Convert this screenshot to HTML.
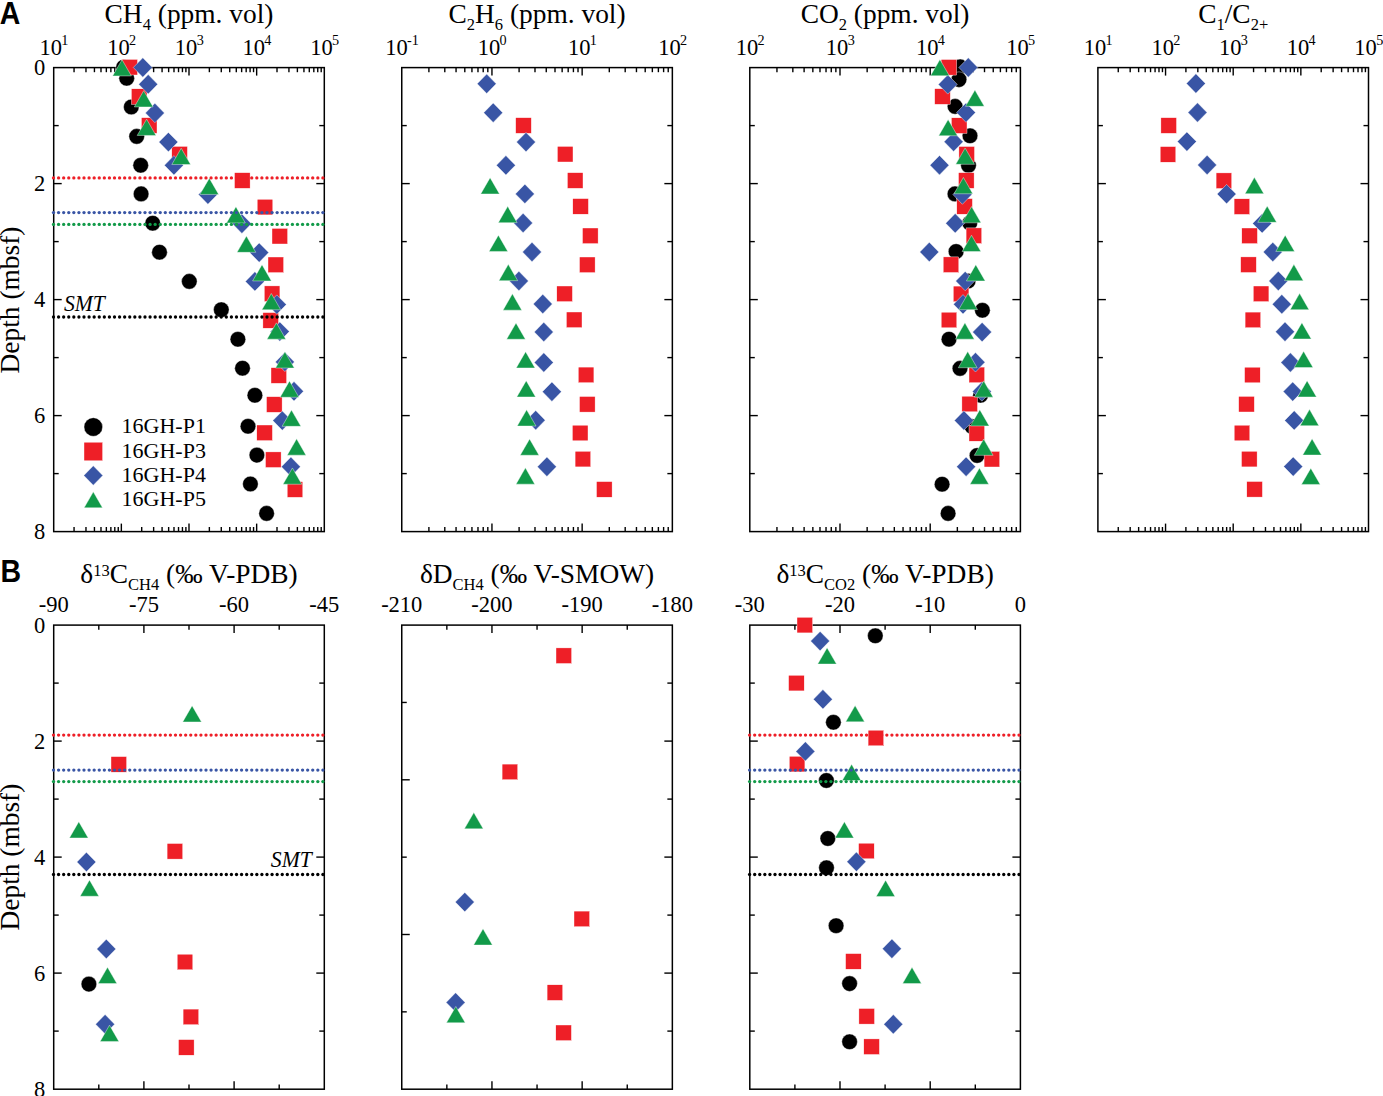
<!DOCTYPE html>
<html><head><meta charset="utf-8"><style>html,body{margin:0;padding:0;background:#fff;overflow:hidden}svg{display:block}</style></head>
<body><svg width="1383" height="1096" viewBox="0 0 1383 1096"><rect width="1383" height="1096" fill="#fff"/>
<text transform="translate(-0.3,24.0) scale(0.92,1)" font-family="&quot;Liberation Sans&quot;, sans-serif" font-weight="bold" font-size="31">A</text>
<text transform="translate(0.4,582.0) scale(0.92,1)" font-family="&quot;Liberation Sans&quot;, sans-serif" font-weight="bold" font-size="31">B</text>
<text x="189.00" y="23.40" font-family="'Liberation Serif', serif" font-size="27.4" text-anchor="middle"><tspan>CH</tspan><tspan font-size="16.5" dy="7.0">4</tspan><tspan dy="-7.0"> (ppm. vol)</tspan></text>
<text x="537.05" y="23.40" font-family="'Liberation Serif', serif" font-size="27.4" text-anchor="middle"><tspan>C</tspan><tspan font-size="16.5" dy="7.0">2</tspan><tspan dy="-7.0">H</tspan><tspan font-size="16.5" dy="7.0">6</tspan><tspan dy="-7.0"> (ppm. vol)</tspan></text>
<text x="885.10" y="23.40" font-family="'Liberation Serif', serif" font-size="27.4" text-anchor="middle"><tspan>CO</tspan><tspan font-size="16.5" dy="7.0">2</tspan><tspan dy="-7.0"> (ppm. vol)</tspan></text>
<text x="1233.20" y="23.40" font-family="'Liberation Serif', serif" font-size="27.4" text-anchor="middle"><tspan>C</tspan><tspan font-size="16.5" dy="7.0">1</tspan><tspan dy="-7.0">/C</tspan><tspan font-size="16.5" dy="7.0">2+</tspan></text>
<text x="189.00" y="583.30" font-family="'Liberation Serif', serif" font-size="27.4" text-anchor="middle"><tspan>δ</tspan><tspan font-size="16.5" dy="-7.8">13</tspan><tspan dy="7.8">C</tspan><tspan font-size="16.5" dy="7.0">CH4</tspan><tspan dy="-7.0"> (‰ V-PDB)</tspan></text>
<text x="537.05" y="583.30" font-family="'Liberation Serif', serif" font-size="27.4" text-anchor="middle"><tspan>δD</tspan><tspan font-size="16.5" dy="7.0">CH4</tspan><tspan dy="-7.0"> (‰ V-SMOW)</tspan></text>
<text x="885.10" y="583.30" font-family="'Liberation Serif', serif" font-size="27.4" text-anchor="middle"><tspan>δ</tspan><tspan font-size="16.5" dy="-7.8">13</tspan><tspan dy="7.8">C</tspan><tspan font-size="16.5" dy="7.0">CO2</tspan><tspan dy="-7.0"> (‰ V-PDB)</tspan></text>
<line x1="74.06" y1="67.60" x2="74.06" y2="72.20" stroke="#000" stroke-width="1.4"/>
<line x1="74.06" y1="531.60" x2="74.06" y2="527.00" stroke="#000" stroke-width="1.4"/>
<line x1="85.98" y1="67.60" x2="85.98" y2="72.20" stroke="#000" stroke-width="1.4"/>
<line x1="85.98" y1="531.60" x2="85.98" y2="527.00" stroke="#000" stroke-width="1.4"/>
<line x1="94.43" y1="67.60" x2="94.43" y2="72.20" stroke="#000" stroke-width="1.4"/>
<line x1="94.43" y1="531.60" x2="94.43" y2="527.00" stroke="#000" stroke-width="1.4"/>
<line x1="100.99" y1="67.60" x2="100.99" y2="72.20" stroke="#000" stroke-width="1.4"/>
<line x1="100.99" y1="531.60" x2="100.99" y2="527.00" stroke="#000" stroke-width="1.4"/>
<line x1="106.34" y1="67.60" x2="106.34" y2="72.20" stroke="#000" stroke-width="1.4"/>
<line x1="106.34" y1="531.60" x2="106.34" y2="527.00" stroke="#000" stroke-width="1.4"/>
<line x1="110.87" y1="67.60" x2="110.87" y2="72.20" stroke="#000" stroke-width="1.4"/>
<line x1="110.87" y1="531.60" x2="110.87" y2="527.00" stroke="#000" stroke-width="1.4"/>
<line x1="114.79" y1="67.60" x2="114.79" y2="72.20" stroke="#000" stroke-width="1.4"/>
<line x1="114.79" y1="531.60" x2="114.79" y2="527.00" stroke="#000" stroke-width="1.4"/>
<line x1="118.25" y1="67.60" x2="118.25" y2="72.20" stroke="#000" stroke-width="1.4"/>
<line x1="118.25" y1="531.60" x2="118.25" y2="527.00" stroke="#000" stroke-width="1.4"/>
<line x1="141.71" y1="67.60" x2="141.71" y2="72.20" stroke="#000" stroke-width="1.4"/>
<line x1="141.71" y1="531.60" x2="141.71" y2="527.00" stroke="#000" stroke-width="1.4"/>
<line x1="153.63" y1="67.60" x2="153.63" y2="72.20" stroke="#000" stroke-width="1.4"/>
<line x1="153.63" y1="531.60" x2="153.63" y2="527.00" stroke="#000" stroke-width="1.4"/>
<line x1="162.08" y1="67.60" x2="162.08" y2="72.20" stroke="#000" stroke-width="1.4"/>
<line x1="162.08" y1="531.60" x2="162.08" y2="527.00" stroke="#000" stroke-width="1.4"/>
<line x1="168.64" y1="67.60" x2="168.64" y2="72.20" stroke="#000" stroke-width="1.4"/>
<line x1="168.64" y1="531.60" x2="168.64" y2="527.00" stroke="#000" stroke-width="1.4"/>
<line x1="173.99" y1="67.60" x2="173.99" y2="72.20" stroke="#000" stroke-width="1.4"/>
<line x1="173.99" y1="531.60" x2="173.99" y2="527.00" stroke="#000" stroke-width="1.4"/>
<line x1="178.52" y1="67.60" x2="178.52" y2="72.20" stroke="#000" stroke-width="1.4"/>
<line x1="178.52" y1="531.60" x2="178.52" y2="527.00" stroke="#000" stroke-width="1.4"/>
<line x1="182.44" y1="67.60" x2="182.44" y2="72.20" stroke="#000" stroke-width="1.4"/>
<line x1="182.44" y1="531.60" x2="182.44" y2="527.00" stroke="#000" stroke-width="1.4"/>
<line x1="185.90" y1="67.60" x2="185.90" y2="72.20" stroke="#000" stroke-width="1.4"/>
<line x1="185.90" y1="531.60" x2="185.90" y2="527.00" stroke="#000" stroke-width="1.4"/>
<line x1="121.35" y1="67.60" x2="121.35" y2="75.60" stroke="#000" stroke-width="1.4"/>
<line x1="121.35" y1="531.60" x2="121.35" y2="523.60" stroke="#000" stroke-width="1.4"/>
<line x1="209.36" y1="67.60" x2="209.36" y2="72.20" stroke="#000" stroke-width="1.4"/>
<line x1="209.36" y1="531.60" x2="209.36" y2="527.00" stroke="#000" stroke-width="1.4"/>
<line x1="221.28" y1="67.60" x2="221.28" y2="72.20" stroke="#000" stroke-width="1.4"/>
<line x1="221.28" y1="531.60" x2="221.28" y2="527.00" stroke="#000" stroke-width="1.4"/>
<line x1="229.73" y1="67.60" x2="229.73" y2="72.20" stroke="#000" stroke-width="1.4"/>
<line x1="229.73" y1="531.60" x2="229.73" y2="527.00" stroke="#000" stroke-width="1.4"/>
<line x1="236.29" y1="67.60" x2="236.29" y2="72.20" stroke="#000" stroke-width="1.4"/>
<line x1="236.29" y1="531.60" x2="236.29" y2="527.00" stroke="#000" stroke-width="1.4"/>
<line x1="241.64" y1="67.60" x2="241.64" y2="72.20" stroke="#000" stroke-width="1.4"/>
<line x1="241.64" y1="531.60" x2="241.64" y2="527.00" stroke="#000" stroke-width="1.4"/>
<line x1="246.17" y1="67.60" x2="246.17" y2="72.20" stroke="#000" stroke-width="1.4"/>
<line x1="246.17" y1="531.60" x2="246.17" y2="527.00" stroke="#000" stroke-width="1.4"/>
<line x1="250.09" y1="67.60" x2="250.09" y2="72.20" stroke="#000" stroke-width="1.4"/>
<line x1="250.09" y1="531.60" x2="250.09" y2="527.00" stroke="#000" stroke-width="1.4"/>
<line x1="253.55" y1="67.60" x2="253.55" y2="72.20" stroke="#000" stroke-width="1.4"/>
<line x1="253.55" y1="531.60" x2="253.55" y2="527.00" stroke="#000" stroke-width="1.4"/>
<line x1="189.00" y1="67.60" x2="189.00" y2="75.60" stroke="#000" stroke-width="1.4"/>
<line x1="189.00" y1="531.60" x2="189.00" y2="523.60" stroke="#000" stroke-width="1.4"/>
<line x1="277.01" y1="67.60" x2="277.01" y2="72.20" stroke="#000" stroke-width="1.4"/>
<line x1="277.01" y1="531.60" x2="277.01" y2="527.00" stroke="#000" stroke-width="1.4"/>
<line x1="288.93" y1="67.60" x2="288.93" y2="72.20" stroke="#000" stroke-width="1.4"/>
<line x1="288.93" y1="531.60" x2="288.93" y2="527.00" stroke="#000" stroke-width="1.4"/>
<line x1="297.38" y1="67.60" x2="297.38" y2="72.20" stroke="#000" stroke-width="1.4"/>
<line x1="297.38" y1="531.60" x2="297.38" y2="527.00" stroke="#000" stroke-width="1.4"/>
<line x1="303.94" y1="67.60" x2="303.94" y2="72.20" stroke="#000" stroke-width="1.4"/>
<line x1="303.94" y1="531.60" x2="303.94" y2="527.00" stroke="#000" stroke-width="1.4"/>
<line x1="309.29" y1="67.60" x2="309.29" y2="72.20" stroke="#000" stroke-width="1.4"/>
<line x1="309.29" y1="531.60" x2="309.29" y2="527.00" stroke="#000" stroke-width="1.4"/>
<line x1="313.82" y1="67.60" x2="313.82" y2="72.20" stroke="#000" stroke-width="1.4"/>
<line x1="313.82" y1="531.60" x2="313.82" y2="527.00" stroke="#000" stroke-width="1.4"/>
<line x1="317.74" y1="67.60" x2="317.74" y2="72.20" stroke="#000" stroke-width="1.4"/>
<line x1="317.74" y1="531.60" x2="317.74" y2="527.00" stroke="#000" stroke-width="1.4"/>
<line x1="321.20" y1="67.60" x2="321.20" y2="72.20" stroke="#000" stroke-width="1.4"/>
<line x1="321.20" y1="531.60" x2="321.20" y2="527.00" stroke="#000" stroke-width="1.4"/>
<line x1="256.65" y1="67.60" x2="256.65" y2="75.60" stroke="#000" stroke-width="1.4"/>
<line x1="256.65" y1="531.60" x2="256.65" y2="523.60" stroke="#000" stroke-width="1.4"/>
<line x1="53.70" y1="125.60" x2="58.70" y2="125.60" stroke="#000" stroke-width="1.4"/>
<line x1="53.70" y1="183.60" x2="61.70" y2="183.60" stroke="#000" stroke-width="1.4"/>
<line x1="53.70" y1="241.60" x2="58.70" y2="241.60" stroke="#000" stroke-width="1.4"/>
<line x1="53.70" y1="299.60" x2="61.70" y2="299.60" stroke="#000" stroke-width="1.4"/>
<line x1="53.70" y1="357.60" x2="58.70" y2="357.60" stroke="#000" stroke-width="1.4"/>
<line x1="53.70" y1="415.60" x2="61.70" y2="415.60" stroke="#000" stroke-width="1.4"/>
<line x1="53.70" y1="473.60" x2="58.70" y2="473.60" stroke="#000" stroke-width="1.4"/>
<line x1="324.30" y1="125.60" x2="319.30" y2="125.60" stroke="#000" stroke-width="1.4"/>
<line x1="324.30" y1="183.60" x2="316.30" y2="183.60" stroke="#000" stroke-width="1.4"/>
<line x1="324.30" y1="241.60" x2="319.30" y2="241.60" stroke="#000" stroke-width="1.4"/>
<line x1="324.30" y1="299.60" x2="316.30" y2="299.60" stroke="#000" stroke-width="1.4"/>
<line x1="324.30" y1="357.60" x2="319.30" y2="357.60" stroke="#000" stroke-width="1.4"/>
<line x1="324.30" y1="415.60" x2="316.30" y2="415.60" stroke="#000" stroke-width="1.4"/>
<line x1="324.30" y1="473.60" x2="319.30" y2="473.60" stroke="#000" stroke-width="1.4"/>
<text x="54.00" y="54.90" font-family="'Liberation Serif', serif" font-size="22.5" text-anchor="middle">10<tspan font-size="14.2" dx="-0.7" dy="-10.2">1</tspan></text>
<text x="121.65" y="54.90" font-family="'Liberation Serif', serif" font-size="22.5" text-anchor="middle">10<tspan font-size="14.2" dx="-0.7" dy="-10.2">2</tspan></text>
<text x="189.30" y="54.90" font-family="'Liberation Serif', serif" font-size="22.5" text-anchor="middle">10<tspan font-size="14.2" dx="-0.7" dy="-10.2">3</tspan></text>
<text x="256.95" y="54.90" font-family="'Liberation Serif', serif" font-size="22.5" text-anchor="middle">10<tspan font-size="14.2" dx="-0.7" dy="-10.2">4</tspan></text>
<text x="324.60" y="54.90" font-family="'Liberation Serif', serif" font-size="22.5" text-anchor="middle">10<tspan font-size="14.2" dx="-0.7" dy="-10.2">5</tspan></text>
<line x1="428.90" y1="67.60" x2="428.90" y2="72.20" stroke="#000" stroke-width="1.4"/>
<line x1="428.90" y1="531.60" x2="428.90" y2="527.00" stroke="#000" stroke-width="1.4"/>
<line x1="444.79" y1="67.60" x2="444.79" y2="72.20" stroke="#000" stroke-width="1.4"/>
<line x1="444.79" y1="531.60" x2="444.79" y2="527.00" stroke="#000" stroke-width="1.4"/>
<line x1="456.06" y1="67.60" x2="456.06" y2="72.20" stroke="#000" stroke-width="1.4"/>
<line x1="456.06" y1="531.60" x2="456.06" y2="527.00" stroke="#000" stroke-width="1.4"/>
<line x1="464.80" y1="67.60" x2="464.80" y2="72.20" stroke="#000" stroke-width="1.4"/>
<line x1="464.80" y1="531.60" x2="464.80" y2="527.00" stroke="#000" stroke-width="1.4"/>
<line x1="471.94" y1="67.60" x2="471.94" y2="72.20" stroke="#000" stroke-width="1.4"/>
<line x1="471.94" y1="531.60" x2="471.94" y2="527.00" stroke="#000" stroke-width="1.4"/>
<line x1="477.98" y1="67.60" x2="477.98" y2="72.20" stroke="#000" stroke-width="1.4"/>
<line x1="477.98" y1="531.60" x2="477.98" y2="527.00" stroke="#000" stroke-width="1.4"/>
<line x1="483.21" y1="67.60" x2="483.21" y2="72.20" stroke="#000" stroke-width="1.4"/>
<line x1="483.21" y1="531.60" x2="483.21" y2="527.00" stroke="#000" stroke-width="1.4"/>
<line x1="487.82" y1="67.60" x2="487.82" y2="72.20" stroke="#000" stroke-width="1.4"/>
<line x1="487.82" y1="531.60" x2="487.82" y2="527.00" stroke="#000" stroke-width="1.4"/>
<line x1="519.10" y1="67.60" x2="519.10" y2="72.20" stroke="#000" stroke-width="1.4"/>
<line x1="519.10" y1="531.60" x2="519.10" y2="527.00" stroke="#000" stroke-width="1.4"/>
<line x1="534.99" y1="67.60" x2="534.99" y2="72.20" stroke="#000" stroke-width="1.4"/>
<line x1="534.99" y1="531.60" x2="534.99" y2="527.00" stroke="#000" stroke-width="1.4"/>
<line x1="546.26" y1="67.60" x2="546.26" y2="72.20" stroke="#000" stroke-width="1.4"/>
<line x1="546.26" y1="531.60" x2="546.26" y2="527.00" stroke="#000" stroke-width="1.4"/>
<line x1="555.00" y1="67.60" x2="555.00" y2="72.20" stroke="#000" stroke-width="1.4"/>
<line x1="555.00" y1="531.60" x2="555.00" y2="527.00" stroke="#000" stroke-width="1.4"/>
<line x1="562.14" y1="67.60" x2="562.14" y2="72.20" stroke="#000" stroke-width="1.4"/>
<line x1="562.14" y1="531.60" x2="562.14" y2="527.00" stroke="#000" stroke-width="1.4"/>
<line x1="568.18" y1="67.60" x2="568.18" y2="72.20" stroke="#000" stroke-width="1.4"/>
<line x1="568.18" y1="531.60" x2="568.18" y2="527.00" stroke="#000" stroke-width="1.4"/>
<line x1="573.41" y1="67.60" x2="573.41" y2="72.20" stroke="#000" stroke-width="1.4"/>
<line x1="573.41" y1="531.60" x2="573.41" y2="527.00" stroke="#000" stroke-width="1.4"/>
<line x1="578.02" y1="67.60" x2="578.02" y2="72.20" stroke="#000" stroke-width="1.4"/>
<line x1="578.02" y1="531.60" x2="578.02" y2="527.00" stroke="#000" stroke-width="1.4"/>
<line x1="491.95" y1="67.60" x2="491.95" y2="75.60" stroke="#000" stroke-width="1.4"/>
<line x1="491.95" y1="531.60" x2="491.95" y2="523.60" stroke="#000" stroke-width="1.4"/>
<line x1="609.30" y1="67.60" x2="609.30" y2="72.20" stroke="#000" stroke-width="1.4"/>
<line x1="609.30" y1="531.60" x2="609.30" y2="527.00" stroke="#000" stroke-width="1.4"/>
<line x1="625.19" y1="67.60" x2="625.19" y2="72.20" stroke="#000" stroke-width="1.4"/>
<line x1="625.19" y1="531.60" x2="625.19" y2="527.00" stroke="#000" stroke-width="1.4"/>
<line x1="636.46" y1="67.60" x2="636.46" y2="72.20" stroke="#000" stroke-width="1.4"/>
<line x1="636.46" y1="531.60" x2="636.46" y2="527.00" stroke="#000" stroke-width="1.4"/>
<line x1="645.20" y1="67.60" x2="645.20" y2="72.20" stroke="#000" stroke-width="1.4"/>
<line x1="645.20" y1="531.60" x2="645.20" y2="527.00" stroke="#000" stroke-width="1.4"/>
<line x1="652.34" y1="67.60" x2="652.34" y2="72.20" stroke="#000" stroke-width="1.4"/>
<line x1="652.34" y1="531.60" x2="652.34" y2="527.00" stroke="#000" stroke-width="1.4"/>
<line x1="658.38" y1="67.60" x2="658.38" y2="72.20" stroke="#000" stroke-width="1.4"/>
<line x1="658.38" y1="531.60" x2="658.38" y2="527.00" stroke="#000" stroke-width="1.4"/>
<line x1="663.61" y1="67.60" x2="663.61" y2="72.20" stroke="#000" stroke-width="1.4"/>
<line x1="663.61" y1="531.60" x2="663.61" y2="527.00" stroke="#000" stroke-width="1.4"/>
<line x1="668.22" y1="67.60" x2="668.22" y2="72.20" stroke="#000" stroke-width="1.4"/>
<line x1="668.22" y1="531.60" x2="668.22" y2="527.00" stroke="#000" stroke-width="1.4"/>
<line x1="582.15" y1="67.60" x2="582.15" y2="75.60" stroke="#000" stroke-width="1.4"/>
<line x1="582.15" y1="531.60" x2="582.15" y2="523.60" stroke="#000" stroke-width="1.4"/>
<line x1="401.75" y1="125.60" x2="406.75" y2="125.60" stroke="#000" stroke-width="1.4"/>
<line x1="401.75" y1="183.60" x2="409.75" y2="183.60" stroke="#000" stroke-width="1.4"/>
<line x1="401.75" y1="241.60" x2="406.75" y2="241.60" stroke="#000" stroke-width="1.4"/>
<line x1="401.75" y1="299.60" x2="409.75" y2="299.60" stroke="#000" stroke-width="1.4"/>
<line x1="401.75" y1="357.60" x2="406.75" y2="357.60" stroke="#000" stroke-width="1.4"/>
<line x1="401.75" y1="415.60" x2="409.75" y2="415.60" stroke="#000" stroke-width="1.4"/>
<line x1="401.75" y1="473.60" x2="406.75" y2="473.60" stroke="#000" stroke-width="1.4"/>
<line x1="672.35" y1="125.60" x2="667.35" y2="125.60" stroke="#000" stroke-width="1.4"/>
<line x1="672.35" y1="183.60" x2="664.35" y2="183.60" stroke="#000" stroke-width="1.4"/>
<line x1="672.35" y1="241.60" x2="667.35" y2="241.60" stroke="#000" stroke-width="1.4"/>
<line x1="672.35" y1="299.60" x2="664.35" y2="299.60" stroke="#000" stroke-width="1.4"/>
<line x1="672.35" y1="357.60" x2="667.35" y2="357.60" stroke="#000" stroke-width="1.4"/>
<line x1="672.35" y1="415.60" x2="664.35" y2="415.60" stroke="#000" stroke-width="1.4"/>
<line x1="672.35" y1="473.60" x2="667.35" y2="473.60" stroke="#000" stroke-width="1.4"/>
<text x="402.05" y="54.90" font-family="'Liberation Serif', serif" font-size="22.5" text-anchor="middle">10<tspan font-size="14.2" dx="-0.7" dy="-10.2">-1</tspan></text>
<text x="492.25" y="54.90" font-family="'Liberation Serif', serif" font-size="22.5" text-anchor="middle">10<tspan font-size="14.2" dx="-0.7" dy="-10.2">0</tspan></text>
<text x="582.45" y="54.90" font-family="'Liberation Serif', serif" font-size="22.5" text-anchor="middle">10<tspan font-size="14.2" dx="-0.7" dy="-10.2">1</tspan></text>
<text x="672.65" y="54.90" font-family="'Liberation Serif', serif" font-size="22.5" text-anchor="middle">10<tspan font-size="14.2" dx="-0.7" dy="-10.2">2</tspan></text>
<line x1="776.95" y1="67.60" x2="776.95" y2="72.20" stroke="#000" stroke-width="1.4"/>
<line x1="776.95" y1="531.60" x2="776.95" y2="527.00" stroke="#000" stroke-width="1.4"/>
<line x1="792.84" y1="67.60" x2="792.84" y2="72.20" stroke="#000" stroke-width="1.4"/>
<line x1="792.84" y1="531.60" x2="792.84" y2="527.00" stroke="#000" stroke-width="1.4"/>
<line x1="804.11" y1="67.60" x2="804.11" y2="72.20" stroke="#000" stroke-width="1.4"/>
<line x1="804.11" y1="531.60" x2="804.11" y2="527.00" stroke="#000" stroke-width="1.4"/>
<line x1="812.85" y1="67.60" x2="812.85" y2="72.20" stroke="#000" stroke-width="1.4"/>
<line x1="812.85" y1="531.60" x2="812.85" y2="527.00" stroke="#000" stroke-width="1.4"/>
<line x1="819.99" y1="67.60" x2="819.99" y2="72.20" stroke="#000" stroke-width="1.4"/>
<line x1="819.99" y1="531.60" x2="819.99" y2="527.00" stroke="#000" stroke-width="1.4"/>
<line x1="826.03" y1="67.60" x2="826.03" y2="72.20" stroke="#000" stroke-width="1.4"/>
<line x1="826.03" y1="531.60" x2="826.03" y2="527.00" stroke="#000" stroke-width="1.4"/>
<line x1="831.26" y1="67.60" x2="831.26" y2="72.20" stroke="#000" stroke-width="1.4"/>
<line x1="831.26" y1="531.60" x2="831.26" y2="527.00" stroke="#000" stroke-width="1.4"/>
<line x1="835.87" y1="67.60" x2="835.87" y2="72.20" stroke="#000" stroke-width="1.4"/>
<line x1="835.87" y1="531.60" x2="835.87" y2="527.00" stroke="#000" stroke-width="1.4"/>
<line x1="867.15" y1="67.60" x2="867.15" y2="72.20" stroke="#000" stroke-width="1.4"/>
<line x1="867.15" y1="531.60" x2="867.15" y2="527.00" stroke="#000" stroke-width="1.4"/>
<line x1="883.04" y1="67.60" x2="883.04" y2="72.20" stroke="#000" stroke-width="1.4"/>
<line x1="883.04" y1="531.60" x2="883.04" y2="527.00" stroke="#000" stroke-width="1.4"/>
<line x1="894.31" y1="67.60" x2="894.31" y2="72.20" stroke="#000" stroke-width="1.4"/>
<line x1="894.31" y1="531.60" x2="894.31" y2="527.00" stroke="#000" stroke-width="1.4"/>
<line x1="903.05" y1="67.60" x2="903.05" y2="72.20" stroke="#000" stroke-width="1.4"/>
<line x1="903.05" y1="531.60" x2="903.05" y2="527.00" stroke="#000" stroke-width="1.4"/>
<line x1="910.19" y1="67.60" x2="910.19" y2="72.20" stroke="#000" stroke-width="1.4"/>
<line x1="910.19" y1="531.60" x2="910.19" y2="527.00" stroke="#000" stroke-width="1.4"/>
<line x1="916.23" y1="67.60" x2="916.23" y2="72.20" stroke="#000" stroke-width="1.4"/>
<line x1="916.23" y1="531.60" x2="916.23" y2="527.00" stroke="#000" stroke-width="1.4"/>
<line x1="921.46" y1="67.60" x2="921.46" y2="72.20" stroke="#000" stroke-width="1.4"/>
<line x1="921.46" y1="531.60" x2="921.46" y2="527.00" stroke="#000" stroke-width="1.4"/>
<line x1="926.07" y1="67.60" x2="926.07" y2="72.20" stroke="#000" stroke-width="1.4"/>
<line x1="926.07" y1="531.60" x2="926.07" y2="527.00" stroke="#000" stroke-width="1.4"/>
<line x1="840.00" y1="67.60" x2="840.00" y2="75.60" stroke="#000" stroke-width="1.4"/>
<line x1="840.00" y1="531.60" x2="840.00" y2="523.60" stroke="#000" stroke-width="1.4"/>
<line x1="957.35" y1="67.60" x2="957.35" y2="72.20" stroke="#000" stroke-width="1.4"/>
<line x1="957.35" y1="531.60" x2="957.35" y2="527.00" stroke="#000" stroke-width="1.4"/>
<line x1="973.24" y1="67.60" x2="973.24" y2="72.20" stroke="#000" stroke-width="1.4"/>
<line x1="973.24" y1="531.60" x2="973.24" y2="527.00" stroke="#000" stroke-width="1.4"/>
<line x1="984.51" y1="67.60" x2="984.51" y2="72.20" stroke="#000" stroke-width="1.4"/>
<line x1="984.51" y1="531.60" x2="984.51" y2="527.00" stroke="#000" stroke-width="1.4"/>
<line x1="993.25" y1="67.60" x2="993.25" y2="72.20" stroke="#000" stroke-width="1.4"/>
<line x1="993.25" y1="531.60" x2="993.25" y2="527.00" stroke="#000" stroke-width="1.4"/>
<line x1="1000.39" y1="67.60" x2="1000.39" y2="72.20" stroke="#000" stroke-width="1.4"/>
<line x1="1000.39" y1="531.60" x2="1000.39" y2="527.00" stroke="#000" stroke-width="1.4"/>
<line x1="1006.43" y1="67.60" x2="1006.43" y2="72.20" stroke="#000" stroke-width="1.4"/>
<line x1="1006.43" y1="531.60" x2="1006.43" y2="527.00" stroke="#000" stroke-width="1.4"/>
<line x1="1011.66" y1="67.60" x2="1011.66" y2="72.20" stroke="#000" stroke-width="1.4"/>
<line x1="1011.66" y1="531.60" x2="1011.66" y2="527.00" stroke="#000" stroke-width="1.4"/>
<line x1="1016.27" y1="67.60" x2="1016.27" y2="72.20" stroke="#000" stroke-width="1.4"/>
<line x1="1016.27" y1="531.60" x2="1016.27" y2="527.00" stroke="#000" stroke-width="1.4"/>
<line x1="930.20" y1="67.60" x2="930.20" y2="75.60" stroke="#000" stroke-width="1.4"/>
<line x1="930.20" y1="531.60" x2="930.20" y2="523.60" stroke="#000" stroke-width="1.4"/>
<line x1="749.80" y1="125.60" x2="754.80" y2="125.60" stroke="#000" stroke-width="1.4"/>
<line x1="749.80" y1="183.60" x2="757.80" y2="183.60" stroke="#000" stroke-width="1.4"/>
<line x1="749.80" y1="241.60" x2="754.80" y2="241.60" stroke="#000" stroke-width="1.4"/>
<line x1="749.80" y1="299.60" x2="757.80" y2="299.60" stroke="#000" stroke-width="1.4"/>
<line x1="749.80" y1="357.60" x2="754.80" y2="357.60" stroke="#000" stroke-width="1.4"/>
<line x1="749.80" y1="415.60" x2="757.80" y2="415.60" stroke="#000" stroke-width="1.4"/>
<line x1="749.80" y1="473.60" x2="754.80" y2="473.60" stroke="#000" stroke-width="1.4"/>
<line x1="1020.40" y1="125.60" x2="1015.40" y2="125.60" stroke="#000" stroke-width="1.4"/>
<line x1="1020.40" y1="183.60" x2="1012.40" y2="183.60" stroke="#000" stroke-width="1.4"/>
<line x1="1020.40" y1="241.60" x2="1015.40" y2="241.60" stroke="#000" stroke-width="1.4"/>
<line x1="1020.40" y1="299.60" x2="1012.40" y2="299.60" stroke="#000" stroke-width="1.4"/>
<line x1="1020.40" y1="357.60" x2="1015.40" y2="357.60" stroke="#000" stroke-width="1.4"/>
<line x1="1020.40" y1="415.60" x2="1012.40" y2="415.60" stroke="#000" stroke-width="1.4"/>
<line x1="1020.40" y1="473.60" x2="1015.40" y2="473.60" stroke="#000" stroke-width="1.4"/>
<text x="750.10" y="54.90" font-family="'Liberation Serif', serif" font-size="22.5" text-anchor="middle">10<tspan font-size="14.2" dx="-0.7" dy="-10.2">2</tspan></text>
<text x="840.30" y="54.90" font-family="'Liberation Serif', serif" font-size="22.5" text-anchor="middle">10<tspan font-size="14.2" dx="-0.7" dy="-10.2">3</tspan></text>
<text x="930.50" y="54.90" font-family="'Liberation Serif', serif" font-size="22.5" text-anchor="middle">10<tspan font-size="14.2" dx="-0.7" dy="-10.2">4</tspan></text>
<text x="1020.70" y="54.90" font-family="'Liberation Serif', serif" font-size="22.5" text-anchor="middle">10<tspan font-size="14.2" dx="-0.7" dy="-10.2">5</tspan></text>
<line x1="1118.26" y1="67.60" x2="1118.26" y2="72.20" stroke="#000" stroke-width="1.4"/>
<line x1="1118.26" y1="531.60" x2="1118.26" y2="527.00" stroke="#000" stroke-width="1.4"/>
<line x1="1130.18" y1="67.60" x2="1130.18" y2="72.20" stroke="#000" stroke-width="1.4"/>
<line x1="1130.18" y1="531.60" x2="1130.18" y2="527.00" stroke="#000" stroke-width="1.4"/>
<line x1="1138.63" y1="67.60" x2="1138.63" y2="72.20" stroke="#000" stroke-width="1.4"/>
<line x1="1138.63" y1="531.60" x2="1138.63" y2="527.00" stroke="#000" stroke-width="1.4"/>
<line x1="1145.19" y1="67.60" x2="1145.19" y2="72.20" stroke="#000" stroke-width="1.4"/>
<line x1="1145.19" y1="531.60" x2="1145.19" y2="527.00" stroke="#000" stroke-width="1.4"/>
<line x1="1150.54" y1="67.60" x2="1150.54" y2="72.20" stroke="#000" stroke-width="1.4"/>
<line x1="1150.54" y1="531.60" x2="1150.54" y2="527.00" stroke="#000" stroke-width="1.4"/>
<line x1="1155.07" y1="67.60" x2="1155.07" y2="72.20" stroke="#000" stroke-width="1.4"/>
<line x1="1155.07" y1="531.60" x2="1155.07" y2="527.00" stroke="#000" stroke-width="1.4"/>
<line x1="1158.99" y1="67.60" x2="1158.99" y2="72.20" stroke="#000" stroke-width="1.4"/>
<line x1="1158.99" y1="531.60" x2="1158.99" y2="527.00" stroke="#000" stroke-width="1.4"/>
<line x1="1162.45" y1="67.60" x2="1162.45" y2="72.20" stroke="#000" stroke-width="1.4"/>
<line x1="1162.45" y1="531.60" x2="1162.45" y2="527.00" stroke="#000" stroke-width="1.4"/>
<line x1="1185.91" y1="67.60" x2="1185.91" y2="72.20" stroke="#000" stroke-width="1.4"/>
<line x1="1185.91" y1="531.60" x2="1185.91" y2="527.00" stroke="#000" stroke-width="1.4"/>
<line x1="1197.83" y1="67.60" x2="1197.83" y2="72.20" stroke="#000" stroke-width="1.4"/>
<line x1="1197.83" y1="531.60" x2="1197.83" y2="527.00" stroke="#000" stroke-width="1.4"/>
<line x1="1206.28" y1="67.60" x2="1206.28" y2="72.20" stroke="#000" stroke-width="1.4"/>
<line x1="1206.28" y1="531.60" x2="1206.28" y2="527.00" stroke="#000" stroke-width="1.4"/>
<line x1="1212.84" y1="67.60" x2="1212.84" y2="72.20" stroke="#000" stroke-width="1.4"/>
<line x1="1212.84" y1="531.60" x2="1212.84" y2="527.00" stroke="#000" stroke-width="1.4"/>
<line x1="1218.19" y1="67.60" x2="1218.19" y2="72.20" stroke="#000" stroke-width="1.4"/>
<line x1="1218.19" y1="531.60" x2="1218.19" y2="527.00" stroke="#000" stroke-width="1.4"/>
<line x1="1222.72" y1="67.60" x2="1222.72" y2="72.20" stroke="#000" stroke-width="1.4"/>
<line x1="1222.72" y1="531.60" x2="1222.72" y2="527.00" stroke="#000" stroke-width="1.4"/>
<line x1="1226.64" y1="67.60" x2="1226.64" y2="72.20" stroke="#000" stroke-width="1.4"/>
<line x1="1226.64" y1="531.60" x2="1226.64" y2="527.00" stroke="#000" stroke-width="1.4"/>
<line x1="1230.10" y1="67.60" x2="1230.10" y2="72.20" stroke="#000" stroke-width="1.4"/>
<line x1="1230.10" y1="531.60" x2="1230.10" y2="527.00" stroke="#000" stroke-width="1.4"/>
<line x1="1165.55" y1="67.60" x2="1165.55" y2="75.60" stroke="#000" stroke-width="1.4"/>
<line x1="1165.55" y1="531.60" x2="1165.55" y2="523.60" stroke="#000" stroke-width="1.4"/>
<line x1="1253.56" y1="67.60" x2="1253.56" y2="72.20" stroke="#000" stroke-width="1.4"/>
<line x1="1253.56" y1="531.60" x2="1253.56" y2="527.00" stroke="#000" stroke-width="1.4"/>
<line x1="1265.48" y1="67.60" x2="1265.48" y2="72.20" stroke="#000" stroke-width="1.4"/>
<line x1="1265.48" y1="531.60" x2="1265.48" y2="527.00" stroke="#000" stroke-width="1.4"/>
<line x1="1273.93" y1="67.60" x2="1273.93" y2="72.20" stroke="#000" stroke-width="1.4"/>
<line x1="1273.93" y1="531.60" x2="1273.93" y2="527.00" stroke="#000" stroke-width="1.4"/>
<line x1="1280.49" y1="67.60" x2="1280.49" y2="72.20" stroke="#000" stroke-width="1.4"/>
<line x1="1280.49" y1="531.60" x2="1280.49" y2="527.00" stroke="#000" stroke-width="1.4"/>
<line x1="1285.84" y1="67.60" x2="1285.84" y2="72.20" stroke="#000" stroke-width="1.4"/>
<line x1="1285.84" y1="531.60" x2="1285.84" y2="527.00" stroke="#000" stroke-width="1.4"/>
<line x1="1290.37" y1="67.60" x2="1290.37" y2="72.20" stroke="#000" stroke-width="1.4"/>
<line x1="1290.37" y1="531.60" x2="1290.37" y2="527.00" stroke="#000" stroke-width="1.4"/>
<line x1="1294.29" y1="67.60" x2="1294.29" y2="72.20" stroke="#000" stroke-width="1.4"/>
<line x1="1294.29" y1="531.60" x2="1294.29" y2="527.00" stroke="#000" stroke-width="1.4"/>
<line x1="1297.75" y1="67.60" x2="1297.75" y2="72.20" stroke="#000" stroke-width="1.4"/>
<line x1="1297.75" y1="531.60" x2="1297.75" y2="527.00" stroke="#000" stroke-width="1.4"/>
<line x1="1233.20" y1="67.60" x2="1233.20" y2="75.60" stroke="#000" stroke-width="1.4"/>
<line x1="1233.20" y1="531.60" x2="1233.20" y2="523.60" stroke="#000" stroke-width="1.4"/>
<line x1="1321.21" y1="67.60" x2="1321.21" y2="72.20" stroke="#000" stroke-width="1.4"/>
<line x1="1321.21" y1="531.60" x2="1321.21" y2="527.00" stroke="#000" stroke-width="1.4"/>
<line x1="1333.13" y1="67.60" x2="1333.13" y2="72.20" stroke="#000" stroke-width="1.4"/>
<line x1="1333.13" y1="531.60" x2="1333.13" y2="527.00" stroke="#000" stroke-width="1.4"/>
<line x1="1341.58" y1="67.60" x2="1341.58" y2="72.20" stroke="#000" stroke-width="1.4"/>
<line x1="1341.58" y1="531.60" x2="1341.58" y2="527.00" stroke="#000" stroke-width="1.4"/>
<line x1="1348.14" y1="67.60" x2="1348.14" y2="72.20" stroke="#000" stroke-width="1.4"/>
<line x1="1348.14" y1="531.60" x2="1348.14" y2="527.00" stroke="#000" stroke-width="1.4"/>
<line x1="1353.49" y1="67.60" x2="1353.49" y2="72.20" stroke="#000" stroke-width="1.4"/>
<line x1="1353.49" y1="531.60" x2="1353.49" y2="527.00" stroke="#000" stroke-width="1.4"/>
<line x1="1358.02" y1="67.60" x2="1358.02" y2="72.20" stroke="#000" stroke-width="1.4"/>
<line x1="1358.02" y1="531.60" x2="1358.02" y2="527.00" stroke="#000" stroke-width="1.4"/>
<line x1="1361.94" y1="67.60" x2="1361.94" y2="72.20" stroke="#000" stroke-width="1.4"/>
<line x1="1361.94" y1="531.60" x2="1361.94" y2="527.00" stroke="#000" stroke-width="1.4"/>
<line x1="1365.40" y1="67.60" x2="1365.40" y2="72.20" stroke="#000" stroke-width="1.4"/>
<line x1="1365.40" y1="531.60" x2="1365.40" y2="527.00" stroke="#000" stroke-width="1.4"/>
<line x1="1300.85" y1="67.60" x2="1300.85" y2="75.60" stroke="#000" stroke-width="1.4"/>
<line x1="1300.85" y1="531.60" x2="1300.85" y2="523.60" stroke="#000" stroke-width="1.4"/>
<line x1="1097.90" y1="125.60" x2="1102.90" y2="125.60" stroke="#000" stroke-width="1.4"/>
<line x1="1097.90" y1="183.60" x2="1105.90" y2="183.60" stroke="#000" stroke-width="1.4"/>
<line x1="1097.90" y1="241.60" x2="1102.90" y2="241.60" stroke="#000" stroke-width="1.4"/>
<line x1="1097.90" y1="299.60" x2="1105.90" y2="299.60" stroke="#000" stroke-width="1.4"/>
<line x1="1097.90" y1="357.60" x2="1102.90" y2="357.60" stroke="#000" stroke-width="1.4"/>
<line x1="1097.90" y1="415.60" x2="1105.90" y2="415.60" stroke="#000" stroke-width="1.4"/>
<line x1="1097.90" y1="473.60" x2="1102.90" y2="473.60" stroke="#000" stroke-width="1.4"/>
<line x1="1368.50" y1="125.60" x2="1363.50" y2="125.60" stroke="#000" stroke-width="1.4"/>
<line x1="1368.50" y1="183.60" x2="1360.50" y2="183.60" stroke="#000" stroke-width="1.4"/>
<line x1="1368.50" y1="241.60" x2="1363.50" y2="241.60" stroke="#000" stroke-width="1.4"/>
<line x1="1368.50" y1="299.60" x2="1360.50" y2="299.60" stroke="#000" stroke-width="1.4"/>
<line x1="1368.50" y1="357.60" x2="1363.50" y2="357.60" stroke="#000" stroke-width="1.4"/>
<line x1="1368.50" y1="415.60" x2="1360.50" y2="415.60" stroke="#000" stroke-width="1.4"/>
<line x1="1368.50" y1="473.60" x2="1363.50" y2="473.60" stroke="#000" stroke-width="1.4"/>
<text x="1098.20" y="54.90" font-family="'Liberation Serif', serif" font-size="22.5" text-anchor="middle">10<tspan font-size="14.2" dx="-0.7" dy="-10.2">1</tspan></text>
<text x="1165.85" y="54.90" font-family="'Liberation Serif', serif" font-size="22.5" text-anchor="middle">10<tspan font-size="14.2" dx="-0.7" dy="-10.2">2</tspan></text>
<text x="1233.50" y="54.90" font-family="'Liberation Serif', serif" font-size="22.5" text-anchor="middle">10<tspan font-size="14.2" dx="-0.7" dy="-10.2">3</tspan></text>
<text x="1301.15" y="54.90" font-family="'Liberation Serif', serif" font-size="22.5" text-anchor="middle">10<tspan font-size="14.2" dx="-0.7" dy="-10.2">4</tspan></text>
<text x="1368.80" y="54.90" font-family="'Liberation Serif', serif" font-size="22.5" text-anchor="middle">10<tspan font-size="14.2" dx="-0.7" dy="-10.2">5</tspan></text>
<line x1="98.80" y1="625.10" x2="98.80" y2="629.70" stroke="#000" stroke-width="1.4"/>
<line x1="98.80" y1="1089.20" x2="98.80" y2="1084.60" stroke="#000" stroke-width="1.4"/>
<line x1="143.90" y1="625.10" x2="143.90" y2="633.10" stroke="#000" stroke-width="1.4"/>
<line x1="143.90" y1="1089.20" x2="143.90" y2="1081.20" stroke="#000" stroke-width="1.4"/>
<line x1="189.00" y1="625.10" x2="189.00" y2="629.70" stroke="#000" stroke-width="1.4"/>
<line x1="189.00" y1="1089.20" x2="189.00" y2="1084.60" stroke="#000" stroke-width="1.4"/>
<line x1="234.10" y1="625.10" x2="234.10" y2="633.10" stroke="#000" stroke-width="1.4"/>
<line x1="234.10" y1="1089.20" x2="234.10" y2="1081.20" stroke="#000" stroke-width="1.4"/>
<line x1="279.20" y1="625.10" x2="279.20" y2="629.70" stroke="#000" stroke-width="1.4"/>
<line x1="279.20" y1="1089.20" x2="279.20" y2="1084.60" stroke="#000" stroke-width="1.4"/>
<line x1="53.70" y1="683.10" x2="58.70" y2="683.10" stroke="#000" stroke-width="1.4"/>
<line x1="53.70" y1="741.10" x2="61.70" y2="741.10" stroke="#000" stroke-width="1.4"/>
<line x1="53.70" y1="799.10" x2="58.70" y2="799.10" stroke="#000" stroke-width="1.4"/>
<line x1="53.70" y1="857.10" x2="61.70" y2="857.10" stroke="#000" stroke-width="1.4"/>
<line x1="53.70" y1="915.10" x2="58.70" y2="915.10" stroke="#000" stroke-width="1.4"/>
<line x1="53.70" y1="973.10" x2="61.70" y2="973.10" stroke="#000" stroke-width="1.4"/>
<line x1="53.70" y1="1031.10" x2="58.70" y2="1031.10" stroke="#000" stroke-width="1.4"/>
<line x1="324.30" y1="683.10" x2="319.30" y2="683.10" stroke="#000" stroke-width="1.4"/>
<line x1="324.30" y1="741.10" x2="316.30" y2="741.10" stroke="#000" stroke-width="1.4"/>
<line x1="324.30" y1="799.10" x2="319.30" y2="799.10" stroke="#000" stroke-width="1.4"/>
<line x1="324.30" y1="857.10" x2="316.30" y2="857.10" stroke="#000" stroke-width="1.4"/>
<line x1="324.30" y1="915.10" x2="319.30" y2="915.10" stroke="#000" stroke-width="1.4"/>
<line x1="324.30" y1="973.10" x2="316.30" y2="973.10" stroke="#000" stroke-width="1.4"/>
<line x1="324.30" y1="1031.10" x2="319.30" y2="1031.10" stroke="#000" stroke-width="1.4"/>
<text x="53.70" y="612.00" font-family="'Liberation Serif', serif" font-size="22.5" text-anchor="middle" >-90</text>
<text x="143.90" y="612.00" font-family="'Liberation Serif', serif" font-size="22.5" text-anchor="middle" >-75</text>
<text x="234.10" y="612.00" font-family="'Liberation Serif', serif" font-size="22.5" text-anchor="middle" >-60</text>
<text x="324.30" y="612.00" font-family="'Liberation Serif', serif" font-size="22.5" text-anchor="middle" >-45</text>
<line x1="446.85" y1="625.10" x2="446.85" y2="629.70" stroke="#000" stroke-width="1.4"/>
<line x1="446.85" y1="1089.20" x2="446.85" y2="1084.60" stroke="#000" stroke-width="1.4"/>
<line x1="491.95" y1="625.10" x2="491.95" y2="633.10" stroke="#000" stroke-width="1.4"/>
<line x1="491.95" y1="1089.20" x2="491.95" y2="1081.20" stroke="#000" stroke-width="1.4"/>
<line x1="537.05" y1="625.10" x2="537.05" y2="629.70" stroke="#000" stroke-width="1.4"/>
<line x1="537.05" y1="1089.20" x2="537.05" y2="1084.60" stroke="#000" stroke-width="1.4"/>
<line x1="582.15" y1="625.10" x2="582.15" y2="633.10" stroke="#000" stroke-width="1.4"/>
<line x1="582.15" y1="1089.20" x2="582.15" y2="1081.20" stroke="#000" stroke-width="1.4"/>
<line x1="627.25" y1="625.10" x2="627.25" y2="629.70" stroke="#000" stroke-width="1.4"/>
<line x1="627.25" y1="1089.20" x2="627.25" y2="1084.60" stroke="#000" stroke-width="1.4"/>
<line x1="401.75" y1="702.45" x2="406.75" y2="702.45" stroke="#000" stroke-width="1.4"/>
<line x1="401.75" y1="779.80" x2="409.75" y2="779.80" stroke="#000" stroke-width="1.4"/>
<line x1="401.75" y1="857.15" x2="406.75" y2="857.15" stroke="#000" stroke-width="1.4"/>
<line x1="401.75" y1="934.50" x2="409.75" y2="934.50" stroke="#000" stroke-width="1.4"/>
<line x1="401.75" y1="1011.85" x2="406.75" y2="1011.85" stroke="#000" stroke-width="1.4"/>
<line x1="672.35" y1="683.10" x2="667.35" y2="683.10" stroke="#000" stroke-width="1.4"/>
<line x1="672.35" y1="741.10" x2="664.35" y2="741.10" stroke="#000" stroke-width="1.4"/>
<line x1="672.35" y1="799.10" x2="667.35" y2="799.10" stroke="#000" stroke-width="1.4"/>
<line x1="672.35" y1="857.10" x2="664.35" y2="857.10" stroke="#000" stroke-width="1.4"/>
<line x1="672.35" y1="915.10" x2="667.35" y2="915.10" stroke="#000" stroke-width="1.4"/>
<line x1="672.35" y1="973.10" x2="664.35" y2="973.10" stroke="#000" stroke-width="1.4"/>
<line x1="672.35" y1="1031.10" x2="667.35" y2="1031.10" stroke="#000" stroke-width="1.4"/>
<text x="401.75" y="612.00" font-family="'Liberation Serif', serif" font-size="22.5" text-anchor="middle" >-210</text>
<text x="491.95" y="612.00" font-family="'Liberation Serif', serif" font-size="22.5" text-anchor="middle" >-200</text>
<text x="582.15" y="612.00" font-family="'Liberation Serif', serif" font-size="22.5" text-anchor="middle" >-190</text>
<text x="672.35" y="612.00" font-family="'Liberation Serif', serif" font-size="22.5" text-anchor="middle" >-180</text>
<line x1="794.90" y1="625.10" x2="794.90" y2="629.70" stroke="#000" stroke-width="1.4"/>
<line x1="794.90" y1="1089.20" x2="794.90" y2="1084.60" stroke="#000" stroke-width="1.4"/>
<line x1="840.00" y1="625.10" x2="840.00" y2="633.10" stroke="#000" stroke-width="1.4"/>
<line x1="840.00" y1="1089.20" x2="840.00" y2="1081.20" stroke="#000" stroke-width="1.4"/>
<line x1="885.10" y1="625.10" x2="885.10" y2="629.70" stroke="#000" stroke-width="1.4"/>
<line x1="885.10" y1="1089.20" x2="885.10" y2="1084.60" stroke="#000" stroke-width="1.4"/>
<line x1="930.20" y1="625.10" x2="930.20" y2="633.10" stroke="#000" stroke-width="1.4"/>
<line x1="930.20" y1="1089.20" x2="930.20" y2="1081.20" stroke="#000" stroke-width="1.4"/>
<line x1="975.30" y1="625.10" x2="975.30" y2="629.70" stroke="#000" stroke-width="1.4"/>
<line x1="975.30" y1="1089.20" x2="975.30" y2="1084.60" stroke="#000" stroke-width="1.4"/>
<line x1="749.80" y1="683.10" x2="754.80" y2="683.10" stroke="#000" stroke-width="1.4"/>
<line x1="749.80" y1="741.10" x2="757.80" y2="741.10" stroke="#000" stroke-width="1.4"/>
<line x1="749.80" y1="799.10" x2="754.80" y2="799.10" stroke="#000" stroke-width="1.4"/>
<line x1="749.80" y1="857.10" x2="757.80" y2="857.10" stroke="#000" stroke-width="1.4"/>
<line x1="749.80" y1="915.10" x2="754.80" y2="915.10" stroke="#000" stroke-width="1.4"/>
<line x1="749.80" y1="973.10" x2="757.80" y2="973.10" stroke="#000" stroke-width="1.4"/>
<line x1="749.80" y1="1031.10" x2="754.80" y2="1031.10" stroke="#000" stroke-width="1.4"/>
<line x1="1020.40" y1="683.10" x2="1015.40" y2="683.10" stroke="#000" stroke-width="1.4"/>
<line x1="1020.40" y1="741.10" x2="1012.40" y2="741.10" stroke="#000" stroke-width="1.4"/>
<line x1="1020.40" y1="799.10" x2="1015.40" y2="799.10" stroke="#000" stroke-width="1.4"/>
<line x1="1020.40" y1="857.10" x2="1012.40" y2="857.10" stroke="#000" stroke-width="1.4"/>
<line x1="1020.40" y1="915.10" x2="1015.40" y2="915.10" stroke="#000" stroke-width="1.4"/>
<line x1="1020.40" y1="973.10" x2="1012.40" y2="973.10" stroke="#000" stroke-width="1.4"/>
<line x1="1020.40" y1="1031.10" x2="1015.40" y2="1031.10" stroke="#000" stroke-width="1.4"/>
<text x="749.80" y="612.00" font-family="'Liberation Serif', serif" font-size="22.5" text-anchor="middle" >-30</text>
<text x="840.00" y="612.00" font-family="'Liberation Serif', serif" font-size="22.5" text-anchor="middle" >-20</text>
<text x="930.20" y="612.00" font-family="'Liberation Serif', serif" font-size="22.5" text-anchor="middle" >-10</text>
<text x="1020.40" y="612.00" font-family="'Liberation Serif', serif" font-size="22.5" text-anchor="middle" >0</text>
<text x="45.30" y="75.20" font-family="'Liberation Serif', serif" font-size="22.5" text-anchor="end" >0</text>
<text x="45.30" y="632.70" font-family="'Liberation Serif', serif" font-size="22.5" text-anchor="end" >0</text>
<text x="45.30" y="191.20" font-family="'Liberation Serif', serif" font-size="22.5" text-anchor="end" >2</text>
<text x="45.30" y="748.70" font-family="'Liberation Serif', serif" font-size="22.5" text-anchor="end" >2</text>
<text x="45.30" y="307.20" font-family="'Liberation Serif', serif" font-size="22.5" text-anchor="end" >4</text>
<text x="45.30" y="864.70" font-family="'Liberation Serif', serif" font-size="22.5" text-anchor="end" >4</text>
<text x="45.30" y="423.20" font-family="'Liberation Serif', serif" font-size="22.5" text-anchor="end" >6</text>
<text x="45.30" y="980.70" font-family="'Liberation Serif', serif" font-size="22.5" text-anchor="end" >6</text>
<text x="45.30" y="539.20" font-family="'Liberation Serif', serif" font-size="22.5" text-anchor="end" >8</text>
<text x="45.30" y="1096.70" font-family="'Liberation Serif', serif" font-size="22.5" text-anchor="end" >8</text>
<text transform="translate(18.9,300.00) rotate(-90)" font-family="'Liberation Serif', serif" font-size="27.4" text-anchor="middle">Depth (mbsf)</text>
<text transform="translate(18.9,857.10) rotate(-90)" font-family="'Liberation Serif', serif" font-size="27.4" text-anchor="middle">Depth (mbsf)</text>
<rect x="53.70" y="67.60" width="270.60" height="464.00" fill="none" stroke="#000" stroke-width="1.5"/>
<rect x="401.75" y="67.60" width="270.60" height="464.00" fill="none" stroke="#000" stroke-width="1.5"/>
<rect x="749.80" y="67.60" width="270.60" height="464.00" fill="none" stroke="#000" stroke-width="1.5"/>
<rect x="1097.90" y="67.60" width="270.60" height="464.00" fill="none" stroke="#000" stroke-width="1.5"/>
<rect x="53.70" y="625.10" width="270.60" height="464.10" fill="none" stroke="#000" stroke-width="1.5"/>
<rect x="401.75" y="625.10" width="270.60" height="464.10" fill="none" stroke="#000" stroke-width="1.5"/>
<rect x="749.80" y="625.10" width="270.60" height="464.10" fill="none" stroke="#000" stroke-width="1.5"/>
<circle cx="123.60" cy="67.20" r="7.8" fill="#000000" stroke="#fff" stroke-width="0.4"/>
<circle cx="126.70" cy="78.30" r="7.8" fill="#000000" stroke="#fff" stroke-width="0.4"/>
<circle cx="131.30" cy="107.00" r="7.8" fill="#000000" stroke="#fff" stroke-width="0.4"/>
<circle cx="136.70" cy="136.40" r="7.8" fill="#000000" stroke="#fff" stroke-width="0.4"/>
<circle cx="140.70" cy="165.30" r="7.8" fill="#000000" stroke="#fff" stroke-width="0.4"/>
<circle cx="141.10" cy="193.90" r="7.8" fill="#000000" stroke="#fff" stroke-width="0.4"/>
<circle cx="152.70" cy="223.20" r="7.8" fill="#000000" stroke="#fff" stroke-width="0.4"/>
<circle cx="159.50" cy="252.20" r="7.8" fill="#000000" stroke="#fff" stroke-width="0.4"/>
<circle cx="189.30" cy="281.40" r="7.8" fill="#000000" stroke="#fff" stroke-width="0.4"/>
<circle cx="221.30" cy="309.70" r="7.8" fill="#000000" stroke="#fff" stroke-width="0.4"/>
<circle cx="237.90" cy="339.30" r="7.8" fill="#000000" stroke="#fff" stroke-width="0.4"/>
<circle cx="242.50" cy="368.20" r="7.8" fill="#000000" stroke="#fff" stroke-width="0.4"/>
<circle cx="254.90" cy="395.30" r="7.8" fill="#000000" stroke="#fff" stroke-width="0.4"/>
<circle cx="248.00" cy="426.30" r="7.8" fill="#000000" stroke="#fff" stroke-width="0.4"/>
<circle cx="256.90" cy="455.10" r="7.8" fill="#000000" stroke="#fff" stroke-width="0.4"/>
<circle cx="250.40" cy="484.00" r="7.8" fill="#000000" stroke="#fff" stroke-width="0.4"/>
<circle cx="266.60" cy="513.40" r="7.8" fill="#000000" stroke="#fff" stroke-width="0.4"/>
<rect x="121.90" y="59.40" width="15.6" height="15.6" fill="#EE1F27" stroke="#fff" stroke-width="0.4"/>
<rect x="131.40" y="88.80" width="15.6" height="15.6" fill="#EE1F27" stroke="#fff" stroke-width="0.4"/>
<rect x="141.40" y="117.70" width="15.6" height="15.6" fill="#EE1F27" stroke="#fff" stroke-width="0.4"/>
<rect x="171.80" y="146.40" width="15.6" height="15.6" fill="#EE1F27" stroke="#fff" stroke-width="0.4"/>
<rect x="234.50" y="172.70" width="15.6" height="15.6" fill="#EE1F27" stroke="#fff" stroke-width="0.4"/>
<rect x="257.20" y="199.30" width="15.6" height="15.6" fill="#EE1F27" stroke="#fff" stroke-width="0.4"/>
<rect x="272.00" y="228.40" width="15.6" height="15.6" fill="#EE1F27" stroke="#fff" stroke-width="0.4"/>
<rect x="268.00" y="257.00" width="15.6" height="15.6" fill="#EE1F27" stroke="#fff" stroke-width="0.4"/>
<rect x="264.30" y="285.90" width="15.6" height="15.6" fill="#EE1F27" stroke="#fff" stroke-width="0.4"/>
<rect x="262.90" y="312.60" width="15.6" height="15.6" fill="#EE1F27" stroke="#fff" stroke-width="0.4"/>
<rect x="271.00" y="367.70" width="15.6" height="15.6" fill="#EE1F27" stroke="#fff" stroke-width="0.4"/>
<rect x="266.50" y="396.70" width="15.6" height="15.6" fill="#EE1F27" stroke="#fff" stroke-width="0.4"/>
<rect x="256.80" y="425.00" width="15.6" height="15.6" fill="#EE1F27" stroke="#fff" stroke-width="0.4"/>
<rect x="265.50" y="451.90" width="15.6" height="15.6" fill="#EE1F27" stroke="#fff" stroke-width="0.4"/>
<rect x="287.20" y="481.70" width="15.6" height="15.6" fill="#EE1F27" stroke="#fff" stroke-width="0.4"/>
<path d="M142.80 57.80L152.30 67.50L142.80 77.20L133.30 67.50Z" fill="#3955A5" stroke="#fff" stroke-width="0.4"/>
<path d="M148.20 74.60L157.70 84.30L148.20 94.00L138.70 84.30Z" fill="#3955A5" stroke="#fff" stroke-width="0.4"/>
<path d="M154.90 103.30L164.40 113.00L154.90 122.70L145.40 113.00Z" fill="#3955A5" stroke="#fff" stroke-width="0.4"/>
<path d="M168.40 132.40L177.90 142.10L168.40 151.80L158.90 142.10Z" fill="#3955A5" stroke="#fff" stroke-width="0.4"/>
<path d="M173.90 155.60L183.40 165.30L173.90 175.00L164.40 165.30Z" fill="#3955A5" stroke="#fff" stroke-width="0.4"/>
<path d="M207.90 184.80L217.40 194.50L207.90 204.20L198.40 194.50Z" fill="#3955A5" stroke="#fff" stroke-width="0.4"/>
<path d="M241.90 214.00L251.40 223.70L241.90 233.40L232.40 223.70Z" fill="#3955A5" stroke="#fff" stroke-width="0.4"/>
<path d="M259.20 242.90L268.70 252.60L259.20 262.30L249.70 252.60Z" fill="#3955A5" stroke="#fff" stroke-width="0.4"/>
<path d="M254.90 271.70L264.40 281.40L254.90 291.10L245.40 281.40Z" fill="#3955A5" stroke="#fff" stroke-width="0.4"/>
<path d="M276.80 294.90L286.30 304.60L276.80 314.30L267.30 304.60Z" fill="#3955A5" stroke="#fff" stroke-width="0.4"/>
<path d="M279.80 321.90L289.30 331.60L279.80 341.30L270.30 331.60Z" fill="#3955A5" stroke="#fff" stroke-width="0.4"/>
<path d="M284.90 352.20L294.40 361.90L284.90 371.60L275.40 361.90Z" fill="#3955A5" stroke="#fff" stroke-width="0.4"/>
<path d="M294.00 381.60L303.50 391.30L294.00 401.00L284.50 391.30Z" fill="#3955A5" stroke="#fff" stroke-width="0.4"/>
<path d="M282.30 410.90L291.80 420.60L282.30 430.30L272.80 420.60Z" fill="#3955A5" stroke="#fff" stroke-width="0.4"/>
<path d="M290.90 457.10L300.40 466.80L290.90 476.50L281.40 466.80Z" fill="#3955A5" stroke="#fff" stroke-width="0.4"/>
<path d="M122.00 59.66L131.40 75.94L112.60 75.94Z" fill="#129A49" stroke="#fff" stroke-width="0.4"/>
<path d="M143.70 90.66L153.10 106.94L134.30 106.94Z" fill="#129A49" stroke="#fff" stroke-width="0.4"/>
<path d="M146.60 119.16L156.00 135.44L137.20 135.44Z" fill="#129A49" stroke="#fff" stroke-width="0.4"/>
<path d="M181.20 148.26L190.60 164.54L171.80 164.54Z" fill="#129A49" stroke="#fff" stroke-width="0.4"/>
<path d="M209.30 178.16L218.70 194.44L199.90 194.44Z" fill="#129A49" stroke="#fff" stroke-width="0.4"/>
<path d="M235.90 206.66L245.30 222.94L226.50 222.94Z" fill="#129A49" stroke="#fff" stroke-width="0.4"/>
<path d="M246.40 236.06L255.80 252.34L237.00 252.34Z" fill="#129A49" stroke="#fff" stroke-width="0.4"/>
<path d="M262.00 264.66L271.40 280.94L252.60 280.94Z" fill="#129A49" stroke="#fff" stroke-width="0.4"/>
<path d="M271.30 293.46L280.70 309.74L261.90 309.74Z" fill="#129A49" stroke="#fff" stroke-width="0.4"/>
<path d="M276.40 322.86L285.80 339.14L267.00 339.14Z" fill="#129A49" stroke="#fff" stroke-width="0.4"/>
<path d="M284.90 351.76L294.30 368.04L275.50 368.04Z" fill="#129A49" stroke="#fff" stroke-width="0.4"/>
<path d="M289.50 380.96L298.90 397.24L280.10 397.24Z" fill="#129A49" stroke="#fff" stroke-width="0.4"/>
<path d="M291.50 410.06L300.90 426.34L282.10 426.34Z" fill="#129A49" stroke="#fff" stroke-width="0.4"/>
<path d="M296.60 438.86L306.00 455.14L287.20 455.14Z" fill="#129A49" stroke="#fff" stroke-width="0.4"/>
<path d="M292.40 467.96L301.80 484.24L283.00 484.24Z" fill="#129A49" stroke="#fff" stroke-width="0.4"/>
<rect x="515.70" y="117.70" width="15.6" height="15.6" fill="#EE1F27" stroke="#fff" stroke-width="0.4"/>
<rect x="557.40" y="146.40" width="15.6" height="15.6" fill="#EE1F27" stroke="#fff" stroke-width="0.4"/>
<rect x="567.40" y="172.70" width="15.6" height="15.6" fill="#EE1F27" stroke="#fff" stroke-width="0.4"/>
<rect x="572.80" y="198.60" width="15.6" height="15.6" fill="#EE1F27" stroke="#fff" stroke-width="0.4"/>
<rect x="582.50" y="228.00" width="15.6" height="15.6" fill="#EE1F27" stroke="#fff" stroke-width="0.4"/>
<rect x="579.50" y="257.00" width="15.6" height="15.6" fill="#EE1F27" stroke="#fff" stroke-width="0.4"/>
<rect x="556.80" y="286.00" width="15.6" height="15.6" fill="#EE1F27" stroke="#fff" stroke-width="0.4"/>
<rect x="566.40" y="312.00" width="15.6" height="15.6" fill="#EE1F27" stroke="#fff" stroke-width="0.4"/>
<rect x="578.30" y="367.10" width="15.6" height="15.6" fill="#EE1F27" stroke="#fff" stroke-width="0.4"/>
<rect x="579.50" y="396.50" width="15.6" height="15.6" fill="#EE1F27" stroke="#fff" stroke-width="0.4"/>
<rect x="572.40" y="425.20" width="15.6" height="15.6" fill="#EE1F27" stroke="#fff" stroke-width="0.4"/>
<rect x="575.10" y="451.30" width="15.6" height="15.6" fill="#EE1F27" stroke="#fff" stroke-width="0.4"/>
<rect x="596.50" y="481.60" width="15.6" height="15.6" fill="#EE1F27" stroke="#fff" stroke-width="0.4"/>
<path d="M486.70 74.10L496.20 83.80L486.70 93.50L477.20 83.80Z" fill="#3955A5" stroke="#fff" stroke-width="0.4"/>
<path d="M493.20 103.00L502.70 112.70L493.20 122.40L483.70 112.70Z" fill="#3955A5" stroke="#fff" stroke-width="0.4"/>
<path d="M526.00 132.40L535.50 142.10L526.00 151.80L516.50 142.10Z" fill="#3955A5" stroke="#fff" stroke-width="0.4"/>
<path d="M505.90 155.60L515.40 165.30L505.90 175.00L496.40 165.30Z" fill="#3955A5" stroke="#fff" stroke-width="0.4"/>
<path d="M524.90 184.20L534.40 193.90L524.90 203.60L515.40 193.90Z" fill="#3955A5" stroke="#fff" stroke-width="0.4"/>
<path d="M523.10 213.30L532.60 223.00L523.10 232.70L513.60 223.00Z" fill="#3955A5" stroke="#fff" stroke-width="0.4"/>
<path d="M532.00 242.30L541.50 252.00L532.00 261.70L522.50 252.00Z" fill="#3955A5" stroke="#fff" stroke-width="0.4"/>
<path d="M518.90 271.30L528.40 281.00L518.90 290.70L509.40 281.00Z" fill="#3955A5" stroke="#fff" stroke-width="0.4"/>
<path d="M542.80 294.30L552.30 304.00L542.80 313.70L533.30 304.00Z" fill="#3955A5" stroke="#fff" stroke-width="0.4"/>
<path d="M543.80 322.30L553.30 332.00L543.80 341.70L534.30 332.00Z" fill="#3955A5" stroke="#fff" stroke-width="0.4"/>
<path d="M543.80 352.80L553.30 362.50L543.80 372.20L534.30 362.50Z" fill="#3955A5" stroke="#fff" stroke-width="0.4"/>
<path d="M551.90 382.00L561.40 391.70L551.90 401.40L542.40 391.70Z" fill="#3955A5" stroke="#fff" stroke-width="0.4"/>
<path d="M535.70 410.50L545.20 420.20L535.70 429.90L526.20 420.20Z" fill="#3955A5" stroke="#fff" stroke-width="0.4"/>
<path d="M546.90 457.10L556.40 466.80L546.90 476.50L537.40 466.80Z" fill="#3955A5" stroke="#fff" stroke-width="0.4"/>
<path d="M490.10 177.66L499.50 193.94L480.70 193.94Z" fill="#129A49" stroke="#fff" stroke-width="0.4"/>
<path d="M507.70 206.36L517.10 222.64L498.30 222.64Z" fill="#129A49" stroke="#fff" stroke-width="0.4"/>
<path d="M498.40 235.16L507.80 251.44L489.00 251.44Z" fill="#129A49" stroke="#fff" stroke-width="0.4"/>
<path d="M508.30 264.36L517.70 280.64L498.90 280.64Z" fill="#129A49" stroke="#fff" stroke-width="0.4"/>
<path d="M512.40 293.86L521.80 310.14L503.00 310.14Z" fill="#129A49" stroke="#fff" stroke-width="0.4"/>
<path d="M516.00 322.96L525.40 339.24L506.60 339.24Z" fill="#129A49" stroke="#fff" stroke-width="0.4"/>
<path d="M525.60 351.66L535.00 367.94L516.20 367.94Z" fill="#129A49" stroke="#fff" stroke-width="0.4"/>
<path d="M526.20 380.66L535.60 396.94L516.80 396.94Z" fill="#129A49" stroke="#fff" stroke-width="0.4"/>
<path d="M526.60 409.76L536.00 426.04L517.20 426.04Z" fill="#129A49" stroke="#fff" stroke-width="0.4"/>
<path d="M529.60 438.96L539.00 455.24L520.20 455.24Z" fill="#129A49" stroke="#fff" stroke-width="0.4"/>
<path d="M525.40 467.86L534.80 484.14L516.00 484.14Z" fill="#129A49" stroke="#fff" stroke-width="0.4"/>
<circle cx="960.20" cy="66.90" r="7.8" fill="#000000" stroke="#fff" stroke-width="0.4"/>
<circle cx="959.00" cy="79.60" r="7.8" fill="#000000" stroke="#fff" stroke-width="0.4"/>
<circle cx="955.10" cy="106.40" r="7.8" fill="#000000" stroke="#fff" stroke-width="0.4"/>
<circle cx="970.00" cy="135.80" r="7.8" fill="#000000" stroke="#fff" stroke-width="0.4"/>
<circle cx="968.50" cy="165.40" r="7.8" fill="#000000" stroke="#fff" stroke-width="0.4"/>
<circle cx="955.00" cy="193.90" r="7.8" fill="#000000" stroke="#fff" stroke-width="0.4"/>
<circle cx="969.80" cy="223.00" r="7.8" fill="#000000" stroke="#fff" stroke-width="0.4"/>
<circle cx="956.10" cy="251.50" r="7.8" fill="#000000" stroke="#fff" stroke-width="0.4"/>
<circle cx="968.10" cy="281.10" r="7.8" fill="#000000" stroke="#fff" stroke-width="0.4"/>
<circle cx="982.40" cy="310.30" r="7.8" fill="#000000" stroke="#fff" stroke-width="0.4"/>
<circle cx="949.00" cy="339.20" r="7.8" fill="#000000" stroke="#fff" stroke-width="0.4"/>
<circle cx="960.00" cy="368.40" r="7.8" fill="#000000" stroke="#fff" stroke-width="0.4"/>
<circle cx="980.60" cy="395.30" r="7.8" fill="#000000" stroke="#fff" stroke-width="0.4"/>
<circle cx="972.00" cy="426.60" r="7.8" fill="#000000" stroke="#fff" stroke-width="0.4"/>
<circle cx="977.10" cy="455.50" r="7.8" fill="#000000" stroke="#fff" stroke-width="0.4"/>
<circle cx="942.10" cy="484.20" r="7.8" fill="#000000" stroke="#fff" stroke-width="0.4"/>
<circle cx="948.10" cy="513.40" r="7.8" fill="#000000" stroke="#fff" stroke-width="0.4"/>
<rect x="941.10" y="59.50" width="15.6" height="15.6" fill="#EE1F27" stroke="#fff" stroke-width="0.4"/>
<rect x="934.70" y="88.70" width="15.6" height="15.6" fill="#EE1F27" stroke="#fff" stroke-width="0.4"/>
<rect x="951.40" y="117.80" width="15.6" height="15.6" fill="#EE1F27" stroke="#fff" stroke-width="0.4"/>
<rect x="958.90" y="146.50" width="15.6" height="15.6" fill="#EE1F27" stroke="#fff" stroke-width="0.4"/>
<rect x="958.50" y="172.70" width="15.6" height="15.6" fill="#EE1F27" stroke="#fff" stroke-width="0.4"/>
<rect x="956.80" y="198.60" width="15.6" height="15.6" fill="#EE1F27" stroke="#fff" stroke-width="0.4"/>
<rect x="966.10" y="227.90" width="15.6" height="15.6" fill="#EE1F27" stroke="#fff" stroke-width="0.4"/>
<rect x="943.20" y="256.90" width="15.6" height="15.6" fill="#EE1F27" stroke="#fff" stroke-width="0.4"/>
<rect x="953.30" y="286.10" width="15.6" height="15.6" fill="#EE1F27" stroke="#fff" stroke-width="0.4"/>
<rect x="941.20" y="312.20" width="15.6" height="15.6" fill="#EE1F27" stroke="#fff" stroke-width="0.4"/>
<rect x="969.00" y="367.10" width="15.6" height="15.6" fill="#EE1F27" stroke="#fff" stroke-width="0.4"/>
<rect x="961.90" y="396.20" width="15.6" height="15.6" fill="#EE1F27" stroke="#fff" stroke-width="0.4"/>
<rect x="969.00" y="425.60" width="15.6" height="15.6" fill="#EE1F27" stroke="#fff" stroke-width="0.4"/>
<rect x="984.10" y="451.40" width="15.6" height="15.6" fill="#EE1F27" stroke="#fff" stroke-width="0.4"/>
<path d="M968.30 57.80L977.80 67.50L968.30 77.20L958.80 67.50Z" fill="#3955A5" stroke="#fff" stroke-width="0.4"/>
<path d="M947.80 74.70L957.30 84.40L947.80 94.10L938.30 84.40Z" fill="#3955A5" stroke="#fff" stroke-width="0.4"/>
<path d="M966.00 102.90L975.50 112.60L966.00 122.30L956.50 112.60Z" fill="#3955A5" stroke="#fff" stroke-width="0.4"/>
<path d="M953.60 132.00L963.10 141.70L953.60 151.40L944.10 141.70Z" fill="#3955A5" stroke="#fff" stroke-width="0.4"/>
<path d="M939.50 155.50L949.00 165.20L939.50 174.90L930.00 165.20Z" fill="#3955A5" stroke="#fff" stroke-width="0.4"/>
<path d="M962.40 184.90L971.90 194.60L962.40 204.30L952.90 194.60Z" fill="#3955A5" stroke="#fff" stroke-width="0.4"/>
<path d="M955.20 213.60L964.70 223.30L955.20 233.00L945.70 223.30Z" fill="#3955A5" stroke="#fff" stroke-width="0.4"/>
<path d="M929.30 242.30L938.80 252.00L929.30 261.70L919.80 252.00Z" fill="#3955A5" stroke="#fff" stroke-width="0.4"/>
<path d="M965.20 271.40L974.70 281.10L965.20 290.80L955.70 281.10Z" fill="#3955A5" stroke="#fff" stroke-width="0.4"/>
<path d="M963.00 294.60L972.50 304.30L963.00 314.00L953.50 304.30Z" fill="#3955A5" stroke="#fff" stroke-width="0.4"/>
<path d="M982.10 322.40L991.60 332.10L982.10 341.80L972.60 332.10Z" fill="#3955A5" stroke="#fff" stroke-width="0.4"/>
<path d="M975.50 352.60L985.00 362.30L975.50 372.00L966.00 362.30Z" fill="#3955A5" stroke="#fff" stroke-width="0.4"/>
<path d="M981.90 381.80L991.40 391.50L981.90 401.20L972.40 391.50Z" fill="#3955A5" stroke="#fff" stroke-width="0.4"/>
<path d="M963.90 410.80L973.40 420.50L963.90 430.20L954.40 420.50Z" fill="#3955A5" stroke="#fff" stroke-width="0.4"/>
<path d="M966.10 457.00L975.60 466.70L966.10 476.40L956.60 466.70Z" fill="#3955A5" stroke="#fff" stroke-width="0.4"/>
<path d="M939.90 59.46L949.30 75.74L930.50 75.74Z" fill="#129A49" stroke="#fff" stroke-width="0.4"/>
<path d="M974.90 90.06L984.30 106.34L965.50 106.34Z" fill="#129A49" stroke="#fff" stroke-width="0.4"/>
<path d="M948.10 119.46L957.50 135.74L938.70 135.74Z" fill="#129A49" stroke="#fff" stroke-width="0.4"/>
<path d="M965.10 148.06L974.50 164.34L955.70 164.34Z" fill="#129A49" stroke="#fff" stroke-width="0.4"/>
<path d="M963.40 177.46L972.80 193.74L954.00 193.74Z" fill="#129A49" stroke="#fff" stroke-width="0.4"/>
<path d="M971.60 206.56L981.00 222.84L962.20 222.84Z" fill="#129A49" stroke="#fff" stroke-width="0.4"/>
<path d="M971.50 235.26L980.90 251.54L962.10 251.54Z" fill="#129A49" stroke="#fff" stroke-width="0.4"/>
<path d="M975.80 264.66L985.20 280.94L966.40 280.94Z" fill="#129A49" stroke="#fff" stroke-width="0.4"/>
<path d="M968.10 293.36L977.50 309.64L958.70 309.64Z" fill="#129A49" stroke="#fff" stroke-width="0.4"/>
<path d="M964.90 322.86L974.30 339.14L955.50 339.14Z" fill="#129A49" stroke="#fff" stroke-width="0.4"/>
<path d="M967.70 351.46L977.10 367.74L958.30 367.74Z" fill="#129A49" stroke="#fff" stroke-width="0.4"/>
<path d="M983.70 380.86L993.10 397.14L974.30 397.14Z" fill="#129A49" stroke="#fff" stroke-width="0.4"/>
<path d="M979.80 409.66L989.20 425.94L970.40 425.94Z" fill="#129A49" stroke="#fff" stroke-width="0.4"/>
<path d="M983.70 439.06L993.10 455.34L974.30 455.34Z" fill="#129A49" stroke="#fff" stroke-width="0.4"/>
<path d="M979.40 467.96L988.80 484.24L970.00 484.24Z" fill="#129A49" stroke="#fff" stroke-width="0.4"/>
<rect x="1160.90" y="117.70" width="15.6" height="15.6" fill="#EE1F27" stroke="#fff" stroke-width="0.4"/>
<rect x="1160.20" y="146.60" width="15.6" height="15.6" fill="#EE1F27" stroke="#fff" stroke-width="0.4"/>
<rect x="1216.10" y="172.90" width="15.6" height="15.6" fill="#EE1F27" stroke="#fff" stroke-width="0.4"/>
<rect x="1234.10" y="198.80" width="15.6" height="15.6" fill="#EE1F27" stroke="#fff" stroke-width="0.4"/>
<rect x="1241.80" y="228.00" width="15.6" height="15.6" fill="#EE1F27" stroke="#fff" stroke-width="0.4"/>
<rect x="1240.70" y="256.90" width="15.6" height="15.6" fill="#EE1F27" stroke="#fff" stroke-width="0.4"/>
<rect x="1253.30" y="286.00" width="15.6" height="15.6" fill="#EE1F27" stroke="#fff" stroke-width="0.4"/>
<rect x="1245.10" y="312.10" width="15.6" height="15.6" fill="#EE1F27" stroke="#fff" stroke-width="0.4"/>
<rect x="1244.60" y="367.20" width="15.6" height="15.6" fill="#EE1F27" stroke="#fff" stroke-width="0.4"/>
<rect x="1238.70" y="396.40" width="15.6" height="15.6" fill="#EE1F27" stroke="#fff" stroke-width="0.4"/>
<rect x="1234.20" y="425.20" width="15.6" height="15.6" fill="#EE1F27" stroke="#fff" stroke-width="0.4"/>
<rect x="1241.50" y="451.30" width="15.6" height="15.6" fill="#EE1F27" stroke="#fff" stroke-width="0.4"/>
<rect x="1246.80" y="481.50" width="15.6" height="15.6" fill="#EE1F27" stroke="#fff" stroke-width="0.4"/>
<path d="M1195.90 73.80L1205.40 83.50L1195.90 93.20L1186.40 83.50Z" fill="#3955A5" stroke="#fff" stroke-width="0.4"/>
<path d="M1197.50 102.80L1207.00 112.50L1197.50 122.20L1188.00 112.50Z" fill="#3955A5" stroke="#fff" stroke-width="0.4"/>
<path d="M1186.90 131.90L1196.40 141.60L1186.90 151.30L1177.40 141.60Z" fill="#3955A5" stroke="#fff" stroke-width="0.4"/>
<path d="M1207.10 155.30L1216.60 165.00L1207.10 174.70L1197.60 165.00Z" fill="#3955A5" stroke="#fff" stroke-width="0.4"/>
<path d="M1226.60 184.40L1236.10 194.10L1226.60 203.80L1217.10 194.10Z" fill="#3955A5" stroke="#fff" stroke-width="0.4"/>
<path d="M1262.10 213.70L1271.60 223.40L1262.10 233.10L1252.60 223.40Z" fill="#3955A5" stroke="#fff" stroke-width="0.4"/>
<path d="M1272.80 242.30L1282.30 252.00L1272.80 261.70L1263.30 252.00Z" fill="#3955A5" stroke="#fff" stroke-width="0.4"/>
<path d="M1278.30 271.30L1287.80 281.00L1278.30 290.70L1268.80 281.00Z" fill="#3955A5" stroke="#fff" stroke-width="0.4"/>
<path d="M1281.80 294.50L1291.30 304.20L1281.80 313.90L1272.30 304.20Z" fill="#3955A5" stroke="#fff" stroke-width="0.4"/>
<path d="M1285.00 322.10L1294.50 331.80L1285.00 341.50L1275.50 331.80Z" fill="#3955A5" stroke="#fff" stroke-width="0.4"/>
<path d="M1290.40 352.80L1299.90 362.50L1290.40 372.20L1280.90 362.50Z" fill="#3955A5" stroke="#fff" stroke-width="0.4"/>
<path d="M1292.70 381.90L1302.20 391.60L1292.70 401.30L1283.20 391.60Z" fill="#3955A5" stroke="#fff" stroke-width="0.4"/>
<path d="M1294.20 410.70L1303.70 420.40L1294.20 430.10L1284.70 420.40Z" fill="#3955A5" stroke="#fff" stroke-width="0.4"/>
<path d="M1293.20 456.90L1302.70 466.60L1293.20 476.30L1283.70 466.60Z" fill="#3955A5" stroke="#fff" stroke-width="0.4"/>
<path d="M1254.40 177.36L1263.80 193.64L1245.00 193.64Z" fill="#129A49" stroke="#fff" stroke-width="0.4"/>
<path d="M1267.20 206.06L1276.60 222.34L1257.80 222.34Z" fill="#129A49" stroke="#fff" stroke-width="0.4"/>
<path d="M1285.20 235.16L1294.60 251.44L1275.80 251.44Z" fill="#129A49" stroke="#fff" stroke-width="0.4"/>
<path d="M1293.90 264.36L1303.30 280.64L1284.50 280.64Z" fill="#129A49" stroke="#fff" stroke-width="0.4"/>
<path d="M1299.60 293.36L1309.00 309.64L1290.20 309.64Z" fill="#129A49" stroke="#fff" stroke-width="0.4"/>
<path d="M1301.90 322.66L1311.30 338.94L1292.50 338.94Z" fill="#129A49" stroke="#fff" stroke-width="0.4"/>
<path d="M1303.60 351.26L1313.00 367.54L1294.20 367.54Z" fill="#129A49" stroke="#fff" stroke-width="0.4"/>
<path d="M1307.10 380.66L1316.50 396.94L1297.70 396.94Z" fill="#129A49" stroke="#fff" stroke-width="0.4"/>
<path d="M1309.50 409.36L1318.90 425.64L1300.10 425.64Z" fill="#129A49" stroke="#fff" stroke-width="0.4"/>
<path d="M1312.10 438.76L1321.50 455.04L1302.70 455.04Z" fill="#129A49" stroke="#fff" stroke-width="0.4"/>
<path d="M1310.80 468.16L1320.20 484.44L1301.40 484.44Z" fill="#129A49" stroke="#fff" stroke-width="0.4"/>
<circle cx="88.90" cy="984.10" r="7.8" fill="#000000" stroke="#fff" stroke-width="0.4"/>
<rect x="111.00" y="756.60" width="15.6" height="15.6" fill="#EE1F27" stroke="#fff" stroke-width="0.4"/>
<rect x="167.10" y="843.50" width="15.6" height="15.6" fill="#EE1F27" stroke="#fff" stroke-width="0.4"/>
<rect x="177.20" y="954.20" width="15.6" height="15.6" fill="#EE1F27" stroke="#fff" stroke-width="0.4"/>
<rect x="183.10" y="1009.10" width="15.6" height="15.6" fill="#EE1F27" stroke="#fff" stroke-width="0.4"/>
<rect x="178.50" y="1039.60" width="15.6" height="15.6" fill="#EE1F27" stroke="#fff" stroke-width="0.4"/>
<path d="M86.40 852.30L95.90 862.00L86.40 871.70L76.90 862.00Z" fill="#3955A5" stroke="#fff" stroke-width="0.4"/>
<path d="M106.30 939.30L115.80 949.00L106.30 958.70L96.80 949.00Z" fill="#3955A5" stroke="#fff" stroke-width="0.4"/>
<path d="M105.10 1014.50L114.60 1024.20L105.10 1033.90L95.60 1024.20Z" fill="#3955A5" stroke="#fff" stroke-width="0.4"/>
<path d="M192.10 705.66L201.50 721.94L182.70 721.94Z" fill="#129A49" stroke="#fff" stroke-width="0.4"/>
<path d="M78.80 821.66L88.20 837.94L69.40 837.94Z" fill="#129A49" stroke="#fff" stroke-width="0.4"/>
<path d="M89.50 879.96L98.90 896.24L80.10 896.24Z" fill="#129A49" stroke="#fff" stroke-width="0.4"/>
<path d="M107.50 967.26L116.90 983.54L98.10 983.54Z" fill="#129A49" stroke="#fff" stroke-width="0.4"/>
<path d="M109.50 1025.16L118.90 1041.44L100.10 1041.44Z" fill="#129A49" stroke="#fff" stroke-width="0.4"/>
<rect x="556.00" y="647.90" width="15.6" height="15.6" fill="#EE1F27" stroke="#fff" stroke-width="0.4"/>
<rect x="502.10" y="764.10" width="15.6" height="15.6" fill="#EE1F27" stroke="#fff" stroke-width="0.4"/>
<rect x="574.00" y="911.10" width="15.6" height="15.6" fill="#EE1F27" stroke="#fff" stroke-width="0.4"/>
<rect x="547.10" y="984.80" width="15.6" height="15.6" fill="#EE1F27" stroke="#fff" stroke-width="0.4"/>
<rect x="555.80" y="1025.00" width="15.6" height="15.6" fill="#EE1F27" stroke="#fff" stroke-width="0.4"/>
<path d="M464.80 892.40L474.30 902.10L464.80 911.80L455.30 902.10Z" fill="#3955A5" stroke="#fff" stroke-width="0.4"/>
<path d="M455.60 992.70L465.10 1002.40L455.60 1012.10L446.10 1002.40Z" fill="#3955A5" stroke="#fff" stroke-width="0.4"/>
<path d="M473.80 812.56L483.20 828.84L464.40 828.84Z" fill="#129A49" stroke="#fff" stroke-width="0.4"/>
<path d="M483.00 928.76L492.40 945.04L473.60 945.04Z" fill="#129A49" stroke="#fff" stroke-width="0.4"/>
<path d="M455.80 1006.46L465.20 1022.74L446.40 1022.74Z" fill="#129A49" stroke="#fff" stroke-width="0.4"/>
<circle cx="875.30" cy="635.80" r="7.8" fill="#000000" stroke="#fff" stroke-width="0.4"/>
<circle cx="833.40" cy="722.30" r="7.8" fill="#000000" stroke="#fff" stroke-width="0.4"/>
<circle cx="826.40" cy="780.50" r="7.8" fill="#000000" stroke="#fff" stroke-width="0.4"/>
<circle cx="827.80" cy="838.50" r="7.8" fill="#000000" stroke="#fff" stroke-width="0.4"/>
<circle cx="826.50" cy="867.80" r="7.8" fill="#000000" stroke="#fff" stroke-width="0.4"/>
<circle cx="836.10" cy="925.70" r="7.8" fill="#000000" stroke="#fff" stroke-width="0.4"/>
<circle cx="849.60" cy="983.60" r="7.8" fill="#000000" stroke="#fff" stroke-width="0.4"/>
<circle cx="849.60" cy="1041.80" r="7.8" fill="#000000" stroke="#fff" stroke-width="0.4"/>
<rect x="797.00" y="617.30" width="15.6" height="15.6" fill="#EE1F27" stroke="#fff" stroke-width="0.4"/>
<rect x="788.60" y="675.30" width="15.6" height="15.6" fill="#EE1F27" stroke="#fff" stroke-width="0.4"/>
<rect x="868.10" y="730.20" width="15.6" height="15.6" fill="#EE1F27" stroke="#fff" stroke-width="0.4"/>
<rect x="789.30" y="756.30" width="15.6" height="15.6" fill="#EE1F27" stroke="#fff" stroke-width="0.4"/>
<rect x="858.60" y="843.20" width="15.6" height="15.6" fill="#EE1F27" stroke="#fff" stroke-width="0.4"/>
<rect x="845.60" y="953.60" width="15.6" height="15.6" fill="#EE1F27" stroke="#fff" stroke-width="0.4"/>
<rect x="858.90" y="1008.50" width="15.6" height="15.6" fill="#EE1F27" stroke="#fff" stroke-width="0.4"/>
<rect x="863.80" y="1038.90" width="15.6" height="15.6" fill="#EE1F27" stroke="#fff" stroke-width="0.4"/>
<path d="M820.10 631.40L829.60 641.10L820.10 650.80L810.60 641.10Z" fill="#3955A5" stroke="#fff" stroke-width="0.4"/>
<path d="M822.90 689.60L832.40 699.30L822.90 709.00L813.40 699.30Z" fill="#3955A5" stroke="#fff" stroke-width="0.4"/>
<path d="M805.40 741.70L814.90 751.40L805.40 761.10L795.90 751.40Z" fill="#3955A5" stroke="#fff" stroke-width="0.4"/>
<path d="M856.40 852.00L865.90 861.70L856.40 871.40L846.90 861.70Z" fill="#3955A5" stroke="#fff" stroke-width="0.4"/>
<path d="M891.90 939.10L901.40 948.80L891.90 958.50L882.40 948.80Z" fill="#3955A5" stroke="#fff" stroke-width="0.4"/>
<path d="M893.30 1014.60L902.80 1024.30L893.30 1034.00L883.80 1024.30Z" fill="#3955A5" stroke="#fff" stroke-width="0.4"/>
<path d="M827.10 647.76L836.50 664.04L817.70 664.04Z" fill="#129A49" stroke="#fff" stroke-width="0.4"/>
<path d="M855.10 705.56L864.50 721.84L845.70 721.84Z" fill="#129A49" stroke="#fff" stroke-width="0.4"/>
<path d="M851.60 764.26L861.00 780.54L842.20 780.54Z" fill="#129A49" stroke="#fff" stroke-width="0.4"/>
<path d="M844.40 821.66L853.80 837.94L835.00 837.94Z" fill="#129A49" stroke="#fff" stroke-width="0.4"/>
<path d="M885.60 880.16L895.00 896.44L876.20 896.44Z" fill="#129A49" stroke="#fff" stroke-width="0.4"/>
<path d="M912.00 967.26L921.40 983.54L902.60 983.54Z" fill="#129A49" stroke="#fff" stroke-width="0.4"/>
<circle cx="53.50" cy="177.90" r="1.65" fill="#EE1F27"/><circle cx="58.58" cy="177.90" r="1.65" fill="#EE1F27"/><circle cx="63.67" cy="177.90" r="1.65" fill="#EE1F27"/><circle cx="68.75" cy="177.90" r="1.65" fill="#EE1F27"/><circle cx="73.83" cy="177.90" r="1.65" fill="#EE1F27"/><circle cx="78.92" cy="177.90" r="1.65" fill="#EE1F27"/><circle cx="84.00" cy="177.90" r="1.65" fill="#EE1F27"/><circle cx="89.08" cy="177.90" r="1.65" fill="#EE1F27"/><circle cx="94.16" cy="177.90" r="1.65" fill="#EE1F27"/><circle cx="99.25" cy="177.90" r="1.65" fill="#EE1F27"/><circle cx="104.33" cy="177.90" r="1.65" fill="#EE1F27"/><circle cx="109.41" cy="177.90" r="1.65" fill="#EE1F27"/><circle cx="114.50" cy="177.90" r="1.65" fill="#EE1F27"/><circle cx="119.58" cy="177.90" r="1.65" fill="#EE1F27"/><circle cx="124.66" cy="177.90" r="1.65" fill="#EE1F27"/><circle cx="129.75" cy="177.90" r="1.65" fill="#EE1F27"/><circle cx="134.83" cy="177.90" r="1.65" fill="#EE1F27"/><circle cx="139.91" cy="177.90" r="1.65" fill="#EE1F27"/><circle cx="144.99" cy="177.90" r="1.65" fill="#EE1F27"/><circle cx="150.08" cy="177.90" r="1.65" fill="#EE1F27"/><circle cx="155.16" cy="177.90" r="1.65" fill="#EE1F27"/><circle cx="160.24" cy="177.90" r="1.65" fill="#EE1F27"/><circle cx="165.33" cy="177.90" r="1.65" fill="#EE1F27"/><circle cx="170.41" cy="177.90" r="1.65" fill="#EE1F27"/><circle cx="175.49" cy="177.90" r="1.65" fill="#EE1F27"/><circle cx="180.58" cy="177.90" r="1.65" fill="#EE1F27"/><circle cx="185.66" cy="177.90" r="1.65" fill="#EE1F27"/><circle cx="190.74" cy="177.90" r="1.65" fill="#EE1F27"/><circle cx="195.82" cy="177.90" r="1.65" fill="#EE1F27"/><circle cx="200.91" cy="177.90" r="1.65" fill="#EE1F27"/><circle cx="205.99" cy="177.90" r="1.65" fill="#EE1F27"/><circle cx="211.07" cy="177.90" r="1.65" fill="#EE1F27"/><circle cx="216.16" cy="177.90" r="1.65" fill="#EE1F27"/><circle cx="221.24" cy="177.90" r="1.65" fill="#EE1F27"/><circle cx="226.32" cy="177.90" r="1.65" fill="#EE1F27"/><circle cx="231.41" cy="177.90" r="1.65" fill="#EE1F27"/><circle cx="236.49" cy="177.90" r="1.65" fill="#EE1F27"/><circle cx="241.57" cy="177.90" r="1.65" fill="#EE1F27"/><circle cx="246.65" cy="177.90" r="1.65" fill="#EE1F27"/><circle cx="251.74" cy="177.90" r="1.65" fill="#EE1F27"/><circle cx="256.82" cy="177.90" r="1.65" fill="#EE1F27"/><circle cx="261.90" cy="177.90" r="1.65" fill="#EE1F27"/><circle cx="266.99" cy="177.90" r="1.65" fill="#EE1F27"/><circle cx="272.07" cy="177.90" r="1.65" fill="#EE1F27"/><circle cx="277.15" cy="177.90" r="1.65" fill="#EE1F27"/><circle cx="282.24" cy="177.90" r="1.65" fill="#EE1F27"/><circle cx="287.32" cy="177.90" r="1.65" fill="#EE1F27"/><circle cx="292.40" cy="177.90" r="1.65" fill="#EE1F27"/><circle cx="297.48" cy="177.90" r="1.65" fill="#EE1F27"/><circle cx="302.57" cy="177.90" r="1.65" fill="#EE1F27"/><circle cx="307.65" cy="177.90" r="1.65" fill="#EE1F27"/><circle cx="312.73" cy="177.90" r="1.65" fill="#EE1F27"/><circle cx="317.82" cy="177.90" r="1.65" fill="#EE1F27"/><circle cx="322.90" cy="177.90" r="1.65" fill="#EE1F27"/>
<circle cx="53.50" cy="212.60" r="1.65" fill="#3955A5"/><circle cx="58.58" cy="212.60" r="1.65" fill="#3955A5"/><circle cx="63.67" cy="212.60" r="1.65" fill="#3955A5"/><circle cx="68.75" cy="212.60" r="1.65" fill="#3955A5"/><circle cx="73.83" cy="212.60" r="1.65" fill="#3955A5"/><circle cx="78.92" cy="212.60" r="1.65" fill="#3955A5"/><circle cx="84.00" cy="212.60" r="1.65" fill="#3955A5"/><circle cx="89.08" cy="212.60" r="1.65" fill="#3955A5"/><circle cx="94.16" cy="212.60" r="1.65" fill="#3955A5"/><circle cx="99.25" cy="212.60" r="1.65" fill="#3955A5"/><circle cx="104.33" cy="212.60" r="1.65" fill="#3955A5"/><circle cx="109.41" cy="212.60" r="1.65" fill="#3955A5"/><circle cx="114.50" cy="212.60" r="1.65" fill="#3955A5"/><circle cx="119.58" cy="212.60" r="1.65" fill="#3955A5"/><circle cx="124.66" cy="212.60" r="1.65" fill="#3955A5"/><circle cx="129.75" cy="212.60" r="1.65" fill="#3955A5"/><circle cx="134.83" cy="212.60" r="1.65" fill="#3955A5"/><circle cx="139.91" cy="212.60" r="1.65" fill="#3955A5"/><circle cx="144.99" cy="212.60" r="1.65" fill="#3955A5"/><circle cx="150.08" cy="212.60" r="1.65" fill="#3955A5"/><circle cx="155.16" cy="212.60" r="1.65" fill="#3955A5"/><circle cx="160.24" cy="212.60" r="1.65" fill="#3955A5"/><circle cx="165.33" cy="212.60" r="1.65" fill="#3955A5"/><circle cx="170.41" cy="212.60" r="1.65" fill="#3955A5"/><circle cx="175.49" cy="212.60" r="1.65" fill="#3955A5"/><circle cx="180.58" cy="212.60" r="1.65" fill="#3955A5"/><circle cx="185.66" cy="212.60" r="1.65" fill="#3955A5"/><circle cx="190.74" cy="212.60" r="1.65" fill="#3955A5"/><circle cx="195.82" cy="212.60" r="1.65" fill="#3955A5"/><circle cx="200.91" cy="212.60" r="1.65" fill="#3955A5"/><circle cx="205.99" cy="212.60" r="1.65" fill="#3955A5"/><circle cx="211.07" cy="212.60" r="1.65" fill="#3955A5"/><circle cx="216.16" cy="212.60" r="1.65" fill="#3955A5"/><circle cx="221.24" cy="212.60" r="1.65" fill="#3955A5"/><circle cx="226.32" cy="212.60" r="1.65" fill="#3955A5"/><circle cx="231.41" cy="212.60" r="1.65" fill="#3955A5"/><circle cx="236.49" cy="212.60" r="1.65" fill="#3955A5"/><circle cx="241.57" cy="212.60" r="1.65" fill="#3955A5"/><circle cx="246.65" cy="212.60" r="1.65" fill="#3955A5"/><circle cx="251.74" cy="212.60" r="1.65" fill="#3955A5"/><circle cx="256.82" cy="212.60" r="1.65" fill="#3955A5"/><circle cx="261.90" cy="212.60" r="1.65" fill="#3955A5"/><circle cx="266.99" cy="212.60" r="1.65" fill="#3955A5"/><circle cx="272.07" cy="212.60" r="1.65" fill="#3955A5"/><circle cx="277.15" cy="212.60" r="1.65" fill="#3955A5"/><circle cx="282.24" cy="212.60" r="1.65" fill="#3955A5"/><circle cx="287.32" cy="212.60" r="1.65" fill="#3955A5"/><circle cx="292.40" cy="212.60" r="1.65" fill="#3955A5"/><circle cx="297.48" cy="212.60" r="1.65" fill="#3955A5"/><circle cx="302.57" cy="212.60" r="1.65" fill="#3955A5"/><circle cx="307.65" cy="212.60" r="1.65" fill="#3955A5"/><circle cx="312.73" cy="212.60" r="1.65" fill="#3955A5"/><circle cx="317.82" cy="212.60" r="1.65" fill="#3955A5"/><circle cx="322.90" cy="212.60" r="1.65" fill="#3955A5"/>
<circle cx="53.50" cy="224.40" r="1.65" fill="#129A49"/><circle cx="58.58" cy="224.40" r="1.65" fill="#129A49"/><circle cx="63.67" cy="224.40" r="1.65" fill="#129A49"/><circle cx="68.75" cy="224.40" r="1.65" fill="#129A49"/><circle cx="73.83" cy="224.40" r="1.65" fill="#129A49"/><circle cx="78.92" cy="224.40" r="1.65" fill="#129A49"/><circle cx="84.00" cy="224.40" r="1.65" fill="#129A49"/><circle cx="89.08" cy="224.40" r="1.65" fill="#129A49"/><circle cx="94.16" cy="224.40" r="1.65" fill="#129A49"/><circle cx="99.25" cy="224.40" r="1.65" fill="#129A49"/><circle cx="104.33" cy="224.40" r="1.65" fill="#129A49"/><circle cx="109.41" cy="224.40" r="1.65" fill="#129A49"/><circle cx="114.50" cy="224.40" r="1.65" fill="#129A49"/><circle cx="119.58" cy="224.40" r="1.65" fill="#129A49"/><circle cx="124.66" cy="224.40" r="1.65" fill="#129A49"/><circle cx="129.75" cy="224.40" r="1.65" fill="#129A49"/><circle cx="134.83" cy="224.40" r="1.65" fill="#129A49"/><circle cx="139.91" cy="224.40" r="1.65" fill="#129A49"/><circle cx="144.99" cy="224.40" r="1.65" fill="#129A49"/><circle cx="150.08" cy="224.40" r="1.65" fill="#129A49"/><circle cx="155.16" cy="224.40" r="1.65" fill="#129A49"/><circle cx="160.24" cy="224.40" r="1.65" fill="#129A49"/><circle cx="165.33" cy="224.40" r="1.65" fill="#129A49"/><circle cx="170.41" cy="224.40" r="1.65" fill="#129A49"/><circle cx="175.49" cy="224.40" r="1.65" fill="#129A49"/><circle cx="180.58" cy="224.40" r="1.65" fill="#129A49"/><circle cx="185.66" cy="224.40" r="1.65" fill="#129A49"/><circle cx="190.74" cy="224.40" r="1.65" fill="#129A49"/><circle cx="195.82" cy="224.40" r="1.65" fill="#129A49"/><circle cx="200.91" cy="224.40" r="1.65" fill="#129A49"/><circle cx="205.99" cy="224.40" r="1.65" fill="#129A49"/><circle cx="211.07" cy="224.40" r="1.65" fill="#129A49"/><circle cx="216.16" cy="224.40" r="1.65" fill="#129A49"/><circle cx="221.24" cy="224.40" r="1.65" fill="#129A49"/><circle cx="226.32" cy="224.40" r="1.65" fill="#129A49"/><circle cx="231.41" cy="224.40" r="1.65" fill="#129A49"/><circle cx="236.49" cy="224.40" r="1.65" fill="#129A49"/><circle cx="241.57" cy="224.40" r="1.65" fill="#129A49"/><circle cx="246.65" cy="224.40" r="1.65" fill="#129A49"/><circle cx="251.74" cy="224.40" r="1.65" fill="#129A49"/><circle cx="256.82" cy="224.40" r="1.65" fill="#129A49"/><circle cx="261.90" cy="224.40" r="1.65" fill="#129A49"/><circle cx="266.99" cy="224.40" r="1.65" fill="#129A49"/><circle cx="272.07" cy="224.40" r="1.65" fill="#129A49"/><circle cx="277.15" cy="224.40" r="1.65" fill="#129A49"/><circle cx="282.24" cy="224.40" r="1.65" fill="#129A49"/><circle cx="287.32" cy="224.40" r="1.65" fill="#129A49"/><circle cx="292.40" cy="224.40" r="1.65" fill="#129A49"/><circle cx="297.48" cy="224.40" r="1.65" fill="#129A49"/><circle cx="302.57" cy="224.40" r="1.65" fill="#129A49"/><circle cx="307.65" cy="224.40" r="1.65" fill="#129A49"/><circle cx="312.73" cy="224.40" r="1.65" fill="#129A49"/><circle cx="317.82" cy="224.40" r="1.65" fill="#129A49"/><circle cx="322.90" cy="224.40" r="1.65" fill="#129A49"/>
<circle cx="53.50" cy="317.00" r="1.65" fill="#000000"/><circle cx="58.58" cy="317.00" r="1.65" fill="#000000"/><circle cx="63.67" cy="317.00" r="1.65" fill="#000000"/><circle cx="68.75" cy="317.00" r="1.65" fill="#000000"/><circle cx="73.83" cy="317.00" r="1.65" fill="#000000"/><circle cx="78.92" cy="317.00" r="1.65" fill="#000000"/><circle cx="84.00" cy="317.00" r="1.65" fill="#000000"/><circle cx="89.08" cy="317.00" r="1.65" fill="#000000"/><circle cx="94.16" cy="317.00" r="1.65" fill="#000000"/><circle cx="99.25" cy="317.00" r="1.65" fill="#000000"/><circle cx="104.33" cy="317.00" r="1.65" fill="#000000"/><circle cx="109.41" cy="317.00" r="1.65" fill="#000000"/><circle cx="114.50" cy="317.00" r="1.65" fill="#000000"/><circle cx="119.58" cy="317.00" r="1.65" fill="#000000"/><circle cx="124.66" cy="317.00" r="1.65" fill="#000000"/><circle cx="129.75" cy="317.00" r="1.65" fill="#000000"/><circle cx="134.83" cy="317.00" r="1.65" fill="#000000"/><circle cx="139.91" cy="317.00" r="1.65" fill="#000000"/><circle cx="144.99" cy="317.00" r="1.65" fill="#000000"/><circle cx="150.08" cy="317.00" r="1.65" fill="#000000"/><circle cx="155.16" cy="317.00" r="1.65" fill="#000000"/><circle cx="160.24" cy="317.00" r="1.65" fill="#000000"/><circle cx="165.33" cy="317.00" r="1.65" fill="#000000"/><circle cx="170.41" cy="317.00" r="1.65" fill="#000000"/><circle cx="175.49" cy="317.00" r="1.65" fill="#000000"/><circle cx="180.58" cy="317.00" r="1.65" fill="#000000"/><circle cx="185.66" cy="317.00" r="1.65" fill="#000000"/><circle cx="190.74" cy="317.00" r="1.65" fill="#000000"/><circle cx="195.82" cy="317.00" r="1.65" fill="#000000"/><circle cx="200.91" cy="317.00" r="1.65" fill="#000000"/><circle cx="205.99" cy="317.00" r="1.65" fill="#000000"/><circle cx="211.07" cy="317.00" r="1.65" fill="#000000"/><circle cx="216.16" cy="317.00" r="1.65" fill="#000000"/><circle cx="221.24" cy="317.00" r="1.65" fill="#000000"/><circle cx="226.32" cy="317.00" r="1.65" fill="#000000"/><circle cx="231.41" cy="317.00" r="1.65" fill="#000000"/><circle cx="236.49" cy="317.00" r="1.65" fill="#000000"/><circle cx="241.57" cy="317.00" r="1.65" fill="#000000"/><circle cx="246.65" cy="317.00" r="1.65" fill="#000000"/><circle cx="251.74" cy="317.00" r="1.65" fill="#000000"/><circle cx="256.82" cy="317.00" r="1.65" fill="#000000"/><circle cx="261.90" cy="317.00" r="1.65" fill="#000000"/><circle cx="266.99" cy="317.00" r="1.65" fill="#000000"/><circle cx="272.07" cy="317.00" r="1.65" fill="#000000"/><circle cx="277.15" cy="317.00" r="1.65" fill="#000000"/><circle cx="282.24" cy="317.00" r="1.65" fill="#000000"/><circle cx="287.32" cy="317.00" r="1.65" fill="#000000"/><circle cx="292.40" cy="317.00" r="1.65" fill="#000000"/><circle cx="297.48" cy="317.00" r="1.65" fill="#000000"/><circle cx="302.57" cy="317.00" r="1.65" fill="#000000"/><circle cx="307.65" cy="317.00" r="1.65" fill="#000000"/><circle cx="312.73" cy="317.00" r="1.65" fill="#000000"/><circle cx="317.82" cy="317.00" r="1.65" fill="#000000"/><circle cx="322.90" cy="317.00" r="1.65" fill="#000000"/>
<circle cx="53.50" cy="735.10" r="1.65" fill="#EE1F27"/><circle cx="58.58" cy="735.10" r="1.65" fill="#EE1F27"/><circle cx="63.67" cy="735.10" r="1.65" fill="#EE1F27"/><circle cx="68.75" cy="735.10" r="1.65" fill="#EE1F27"/><circle cx="73.83" cy="735.10" r="1.65" fill="#EE1F27"/><circle cx="78.92" cy="735.10" r="1.65" fill="#EE1F27"/><circle cx="84.00" cy="735.10" r="1.65" fill="#EE1F27"/><circle cx="89.08" cy="735.10" r="1.65" fill="#EE1F27"/><circle cx="94.16" cy="735.10" r="1.65" fill="#EE1F27"/><circle cx="99.25" cy="735.10" r="1.65" fill="#EE1F27"/><circle cx="104.33" cy="735.10" r="1.65" fill="#EE1F27"/><circle cx="109.41" cy="735.10" r="1.65" fill="#EE1F27"/><circle cx="114.50" cy="735.10" r="1.65" fill="#EE1F27"/><circle cx="119.58" cy="735.10" r="1.65" fill="#EE1F27"/><circle cx="124.66" cy="735.10" r="1.65" fill="#EE1F27"/><circle cx="129.75" cy="735.10" r="1.65" fill="#EE1F27"/><circle cx="134.83" cy="735.10" r="1.65" fill="#EE1F27"/><circle cx="139.91" cy="735.10" r="1.65" fill="#EE1F27"/><circle cx="144.99" cy="735.10" r="1.65" fill="#EE1F27"/><circle cx="150.08" cy="735.10" r="1.65" fill="#EE1F27"/><circle cx="155.16" cy="735.10" r="1.65" fill="#EE1F27"/><circle cx="160.24" cy="735.10" r="1.65" fill="#EE1F27"/><circle cx="165.33" cy="735.10" r="1.65" fill="#EE1F27"/><circle cx="170.41" cy="735.10" r="1.65" fill="#EE1F27"/><circle cx="175.49" cy="735.10" r="1.65" fill="#EE1F27"/><circle cx="180.58" cy="735.10" r="1.65" fill="#EE1F27"/><circle cx="185.66" cy="735.10" r="1.65" fill="#EE1F27"/><circle cx="190.74" cy="735.10" r="1.65" fill="#EE1F27"/><circle cx="195.82" cy="735.10" r="1.65" fill="#EE1F27"/><circle cx="200.91" cy="735.10" r="1.65" fill="#EE1F27"/><circle cx="205.99" cy="735.10" r="1.65" fill="#EE1F27"/><circle cx="211.07" cy="735.10" r="1.65" fill="#EE1F27"/><circle cx="216.16" cy="735.10" r="1.65" fill="#EE1F27"/><circle cx="221.24" cy="735.10" r="1.65" fill="#EE1F27"/><circle cx="226.32" cy="735.10" r="1.65" fill="#EE1F27"/><circle cx="231.41" cy="735.10" r="1.65" fill="#EE1F27"/><circle cx="236.49" cy="735.10" r="1.65" fill="#EE1F27"/><circle cx="241.57" cy="735.10" r="1.65" fill="#EE1F27"/><circle cx="246.65" cy="735.10" r="1.65" fill="#EE1F27"/><circle cx="251.74" cy="735.10" r="1.65" fill="#EE1F27"/><circle cx="256.82" cy="735.10" r="1.65" fill="#EE1F27"/><circle cx="261.90" cy="735.10" r="1.65" fill="#EE1F27"/><circle cx="266.99" cy="735.10" r="1.65" fill="#EE1F27"/><circle cx="272.07" cy="735.10" r="1.65" fill="#EE1F27"/><circle cx="277.15" cy="735.10" r="1.65" fill="#EE1F27"/><circle cx="282.24" cy="735.10" r="1.65" fill="#EE1F27"/><circle cx="287.32" cy="735.10" r="1.65" fill="#EE1F27"/><circle cx="292.40" cy="735.10" r="1.65" fill="#EE1F27"/><circle cx="297.48" cy="735.10" r="1.65" fill="#EE1F27"/><circle cx="302.57" cy="735.10" r="1.65" fill="#EE1F27"/><circle cx="307.65" cy="735.10" r="1.65" fill="#EE1F27"/><circle cx="312.73" cy="735.10" r="1.65" fill="#EE1F27"/><circle cx="317.82" cy="735.10" r="1.65" fill="#EE1F27"/><circle cx="322.90" cy="735.10" r="1.65" fill="#EE1F27"/>
<circle cx="53.50" cy="770.10" r="1.65" fill="#3955A5"/><circle cx="58.58" cy="770.10" r="1.65" fill="#3955A5"/><circle cx="63.67" cy="770.10" r="1.65" fill="#3955A5"/><circle cx="68.75" cy="770.10" r="1.65" fill="#3955A5"/><circle cx="73.83" cy="770.10" r="1.65" fill="#3955A5"/><circle cx="78.92" cy="770.10" r="1.65" fill="#3955A5"/><circle cx="84.00" cy="770.10" r="1.65" fill="#3955A5"/><circle cx="89.08" cy="770.10" r="1.65" fill="#3955A5"/><circle cx="94.16" cy="770.10" r="1.65" fill="#3955A5"/><circle cx="99.25" cy="770.10" r="1.65" fill="#3955A5"/><circle cx="104.33" cy="770.10" r="1.65" fill="#3955A5"/><circle cx="109.41" cy="770.10" r="1.65" fill="#3955A5"/><circle cx="114.50" cy="770.10" r="1.65" fill="#3955A5"/><circle cx="119.58" cy="770.10" r="1.65" fill="#3955A5"/><circle cx="124.66" cy="770.10" r="1.65" fill="#3955A5"/><circle cx="129.75" cy="770.10" r="1.65" fill="#3955A5"/><circle cx="134.83" cy="770.10" r="1.65" fill="#3955A5"/><circle cx="139.91" cy="770.10" r="1.65" fill="#3955A5"/><circle cx="144.99" cy="770.10" r="1.65" fill="#3955A5"/><circle cx="150.08" cy="770.10" r="1.65" fill="#3955A5"/><circle cx="155.16" cy="770.10" r="1.65" fill="#3955A5"/><circle cx="160.24" cy="770.10" r="1.65" fill="#3955A5"/><circle cx="165.33" cy="770.10" r="1.65" fill="#3955A5"/><circle cx="170.41" cy="770.10" r="1.65" fill="#3955A5"/><circle cx="175.49" cy="770.10" r="1.65" fill="#3955A5"/><circle cx="180.58" cy="770.10" r="1.65" fill="#3955A5"/><circle cx="185.66" cy="770.10" r="1.65" fill="#3955A5"/><circle cx="190.74" cy="770.10" r="1.65" fill="#3955A5"/><circle cx="195.82" cy="770.10" r="1.65" fill="#3955A5"/><circle cx="200.91" cy="770.10" r="1.65" fill="#3955A5"/><circle cx="205.99" cy="770.10" r="1.65" fill="#3955A5"/><circle cx="211.07" cy="770.10" r="1.65" fill="#3955A5"/><circle cx="216.16" cy="770.10" r="1.65" fill="#3955A5"/><circle cx="221.24" cy="770.10" r="1.65" fill="#3955A5"/><circle cx="226.32" cy="770.10" r="1.65" fill="#3955A5"/><circle cx="231.41" cy="770.10" r="1.65" fill="#3955A5"/><circle cx="236.49" cy="770.10" r="1.65" fill="#3955A5"/><circle cx="241.57" cy="770.10" r="1.65" fill="#3955A5"/><circle cx="246.65" cy="770.10" r="1.65" fill="#3955A5"/><circle cx="251.74" cy="770.10" r="1.65" fill="#3955A5"/><circle cx="256.82" cy="770.10" r="1.65" fill="#3955A5"/><circle cx="261.90" cy="770.10" r="1.65" fill="#3955A5"/><circle cx="266.99" cy="770.10" r="1.65" fill="#3955A5"/><circle cx="272.07" cy="770.10" r="1.65" fill="#3955A5"/><circle cx="277.15" cy="770.10" r="1.65" fill="#3955A5"/><circle cx="282.24" cy="770.10" r="1.65" fill="#3955A5"/><circle cx="287.32" cy="770.10" r="1.65" fill="#3955A5"/><circle cx="292.40" cy="770.10" r="1.65" fill="#3955A5"/><circle cx="297.48" cy="770.10" r="1.65" fill="#3955A5"/><circle cx="302.57" cy="770.10" r="1.65" fill="#3955A5"/><circle cx="307.65" cy="770.10" r="1.65" fill="#3955A5"/><circle cx="312.73" cy="770.10" r="1.65" fill="#3955A5"/><circle cx="317.82" cy="770.10" r="1.65" fill="#3955A5"/><circle cx="322.90" cy="770.10" r="1.65" fill="#3955A5"/>
<circle cx="53.50" cy="781.60" r="1.65" fill="#129A49"/><circle cx="58.58" cy="781.60" r="1.65" fill="#129A49"/><circle cx="63.67" cy="781.60" r="1.65" fill="#129A49"/><circle cx="68.75" cy="781.60" r="1.65" fill="#129A49"/><circle cx="73.83" cy="781.60" r="1.65" fill="#129A49"/><circle cx="78.92" cy="781.60" r="1.65" fill="#129A49"/><circle cx="84.00" cy="781.60" r="1.65" fill="#129A49"/><circle cx="89.08" cy="781.60" r="1.65" fill="#129A49"/><circle cx="94.16" cy="781.60" r="1.65" fill="#129A49"/><circle cx="99.25" cy="781.60" r="1.65" fill="#129A49"/><circle cx="104.33" cy="781.60" r="1.65" fill="#129A49"/><circle cx="109.41" cy="781.60" r="1.65" fill="#129A49"/><circle cx="114.50" cy="781.60" r="1.65" fill="#129A49"/><circle cx="119.58" cy="781.60" r="1.65" fill="#129A49"/><circle cx="124.66" cy="781.60" r="1.65" fill="#129A49"/><circle cx="129.75" cy="781.60" r="1.65" fill="#129A49"/><circle cx="134.83" cy="781.60" r="1.65" fill="#129A49"/><circle cx="139.91" cy="781.60" r="1.65" fill="#129A49"/><circle cx="144.99" cy="781.60" r="1.65" fill="#129A49"/><circle cx="150.08" cy="781.60" r="1.65" fill="#129A49"/><circle cx="155.16" cy="781.60" r="1.65" fill="#129A49"/><circle cx="160.24" cy="781.60" r="1.65" fill="#129A49"/><circle cx="165.33" cy="781.60" r="1.65" fill="#129A49"/><circle cx="170.41" cy="781.60" r="1.65" fill="#129A49"/><circle cx="175.49" cy="781.60" r="1.65" fill="#129A49"/><circle cx="180.58" cy="781.60" r="1.65" fill="#129A49"/><circle cx="185.66" cy="781.60" r="1.65" fill="#129A49"/><circle cx="190.74" cy="781.60" r="1.65" fill="#129A49"/><circle cx="195.82" cy="781.60" r="1.65" fill="#129A49"/><circle cx="200.91" cy="781.60" r="1.65" fill="#129A49"/><circle cx="205.99" cy="781.60" r="1.65" fill="#129A49"/><circle cx="211.07" cy="781.60" r="1.65" fill="#129A49"/><circle cx="216.16" cy="781.60" r="1.65" fill="#129A49"/><circle cx="221.24" cy="781.60" r="1.65" fill="#129A49"/><circle cx="226.32" cy="781.60" r="1.65" fill="#129A49"/><circle cx="231.41" cy="781.60" r="1.65" fill="#129A49"/><circle cx="236.49" cy="781.60" r="1.65" fill="#129A49"/><circle cx="241.57" cy="781.60" r="1.65" fill="#129A49"/><circle cx="246.65" cy="781.60" r="1.65" fill="#129A49"/><circle cx="251.74" cy="781.60" r="1.65" fill="#129A49"/><circle cx="256.82" cy="781.60" r="1.65" fill="#129A49"/><circle cx="261.90" cy="781.60" r="1.65" fill="#129A49"/><circle cx="266.99" cy="781.60" r="1.65" fill="#129A49"/><circle cx="272.07" cy="781.60" r="1.65" fill="#129A49"/><circle cx="277.15" cy="781.60" r="1.65" fill="#129A49"/><circle cx="282.24" cy="781.60" r="1.65" fill="#129A49"/><circle cx="287.32" cy="781.60" r="1.65" fill="#129A49"/><circle cx="292.40" cy="781.60" r="1.65" fill="#129A49"/><circle cx="297.48" cy="781.60" r="1.65" fill="#129A49"/><circle cx="302.57" cy="781.60" r="1.65" fill="#129A49"/><circle cx="307.65" cy="781.60" r="1.65" fill="#129A49"/><circle cx="312.73" cy="781.60" r="1.65" fill="#129A49"/><circle cx="317.82" cy="781.60" r="1.65" fill="#129A49"/><circle cx="322.90" cy="781.60" r="1.65" fill="#129A49"/>
<circle cx="53.50" cy="874.50" r="1.65" fill="#000000"/><circle cx="58.58" cy="874.50" r="1.65" fill="#000000"/><circle cx="63.67" cy="874.50" r="1.65" fill="#000000"/><circle cx="68.75" cy="874.50" r="1.65" fill="#000000"/><circle cx="73.83" cy="874.50" r="1.65" fill="#000000"/><circle cx="78.92" cy="874.50" r="1.65" fill="#000000"/><circle cx="84.00" cy="874.50" r="1.65" fill="#000000"/><circle cx="89.08" cy="874.50" r="1.65" fill="#000000"/><circle cx="94.16" cy="874.50" r="1.65" fill="#000000"/><circle cx="99.25" cy="874.50" r="1.65" fill="#000000"/><circle cx="104.33" cy="874.50" r="1.65" fill="#000000"/><circle cx="109.41" cy="874.50" r="1.65" fill="#000000"/><circle cx="114.50" cy="874.50" r="1.65" fill="#000000"/><circle cx="119.58" cy="874.50" r="1.65" fill="#000000"/><circle cx="124.66" cy="874.50" r="1.65" fill="#000000"/><circle cx="129.75" cy="874.50" r="1.65" fill="#000000"/><circle cx="134.83" cy="874.50" r="1.65" fill="#000000"/><circle cx="139.91" cy="874.50" r="1.65" fill="#000000"/><circle cx="144.99" cy="874.50" r="1.65" fill="#000000"/><circle cx="150.08" cy="874.50" r="1.65" fill="#000000"/><circle cx="155.16" cy="874.50" r="1.65" fill="#000000"/><circle cx="160.24" cy="874.50" r="1.65" fill="#000000"/><circle cx="165.33" cy="874.50" r="1.65" fill="#000000"/><circle cx="170.41" cy="874.50" r="1.65" fill="#000000"/><circle cx="175.49" cy="874.50" r="1.65" fill="#000000"/><circle cx="180.58" cy="874.50" r="1.65" fill="#000000"/><circle cx="185.66" cy="874.50" r="1.65" fill="#000000"/><circle cx="190.74" cy="874.50" r="1.65" fill="#000000"/><circle cx="195.82" cy="874.50" r="1.65" fill="#000000"/><circle cx="200.91" cy="874.50" r="1.65" fill="#000000"/><circle cx="205.99" cy="874.50" r="1.65" fill="#000000"/><circle cx="211.07" cy="874.50" r="1.65" fill="#000000"/><circle cx="216.16" cy="874.50" r="1.65" fill="#000000"/><circle cx="221.24" cy="874.50" r="1.65" fill="#000000"/><circle cx="226.32" cy="874.50" r="1.65" fill="#000000"/><circle cx="231.41" cy="874.50" r="1.65" fill="#000000"/><circle cx="236.49" cy="874.50" r="1.65" fill="#000000"/><circle cx="241.57" cy="874.50" r="1.65" fill="#000000"/><circle cx="246.65" cy="874.50" r="1.65" fill="#000000"/><circle cx="251.74" cy="874.50" r="1.65" fill="#000000"/><circle cx="256.82" cy="874.50" r="1.65" fill="#000000"/><circle cx="261.90" cy="874.50" r="1.65" fill="#000000"/><circle cx="266.99" cy="874.50" r="1.65" fill="#000000"/><circle cx="272.07" cy="874.50" r="1.65" fill="#000000"/><circle cx="277.15" cy="874.50" r="1.65" fill="#000000"/><circle cx="282.24" cy="874.50" r="1.65" fill="#000000"/><circle cx="287.32" cy="874.50" r="1.65" fill="#000000"/><circle cx="292.40" cy="874.50" r="1.65" fill="#000000"/><circle cx="297.48" cy="874.50" r="1.65" fill="#000000"/><circle cx="302.57" cy="874.50" r="1.65" fill="#000000"/><circle cx="307.65" cy="874.50" r="1.65" fill="#000000"/><circle cx="312.73" cy="874.50" r="1.65" fill="#000000"/><circle cx="317.82" cy="874.50" r="1.65" fill="#000000"/><circle cx="322.90" cy="874.50" r="1.65" fill="#000000"/>
<circle cx="749.60" cy="735.10" r="1.65" fill="#EE1F27"/><circle cx="754.68" cy="735.10" r="1.65" fill="#EE1F27"/><circle cx="759.77" cy="735.10" r="1.65" fill="#EE1F27"/><circle cx="764.85" cy="735.10" r="1.65" fill="#EE1F27"/><circle cx="769.93" cy="735.10" r="1.65" fill="#EE1F27"/><circle cx="775.02" cy="735.10" r="1.65" fill="#EE1F27"/><circle cx="780.10" cy="735.10" r="1.65" fill="#EE1F27"/><circle cx="785.18" cy="735.10" r="1.65" fill="#EE1F27"/><circle cx="790.26" cy="735.10" r="1.65" fill="#EE1F27"/><circle cx="795.35" cy="735.10" r="1.65" fill="#EE1F27"/><circle cx="800.43" cy="735.10" r="1.65" fill="#EE1F27"/><circle cx="805.51" cy="735.10" r="1.65" fill="#EE1F27"/><circle cx="810.60" cy="735.10" r="1.65" fill="#EE1F27"/><circle cx="815.68" cy="735.10" r="1.65" fill="#EE1F27"/><circle cx="820.76" cy="735.10" r="1.65" fill="#EE1F27"/><circle cx="825.85" cy="735.10" r="1.65" fill="#EE1F27"/><circle cx="830.93" cy="735.10" r="1.65" fill="#EE1F27"/><circle cx="836.01" cy="735.10" r="1.65" fill="#EE1F27"/><circle cx="841.09" cy="735.10" r="1.65" fill="#EE1F27"/><circle cx="846.18" cy="735.10" r="1.65" fill="#EE1F27"/><circle cx="851.26" cy="735.10" r="1.65" fill="#EE1F27"/><circle cx="856.34" cy="735.10" r="1.65" fill="#EE1F27"/><circle cx="861.43" cy="735.10" r="1.65" fill="#EE1F27"/><circle cx="866.51" cy="735.10" r="1.65" fill="#EE1F27"/><circle cx="871.59" cy="735.10" r="1.65" fill="#EE1F27"/><circle cx="876.68" cy="735.10" r="1.65" fill="#EE1F27"/><circle cx="881.76" cy="735.10" r="1.65" fill="#EE1F27"/><circle cx="886.84" cy="735.10" r="1.65" fill="#EE1F27"/><circle cx="891.92" cy="735.10" r="1.65" fill="#EE1F27"/><circle cx="897.01" cy="735.10" r="1.65" fill="#EE1F27"/><circle cx="902.09" cy="735.10" r="1.65" fill="#EE1F27"/><circle cx="907.17" cy="735.10" r="1.65" fill="#EE1F27"/><circle cx="912.26" cy="735.10" r="1.65" fill="#EE1F27"/><circle cx="917.34" cy="735.10" r="1.65" fill="#EE1F27"/><circle cx="922.42" cy="735.10" r="1.65" fill="#EE1F27"/><circle cx="927.51" cy="735.10" r="1.65" fill="#EE1F27"/><circle cx="932.59" cy="735.10" r="1.65" fill="#EE1F27"/><circle cx="937.67" cy="735.10" r="1.65" fill="#EE1F27"/><circle cx="942.75" cy="735.10" r="1.65" fill="#EE1F27"/><circle cx="947.84" cy="735.10" r="1.65" fill="#EE1F27"/><circle cx="952.92" cy="735.10" r="1.65" fill="#EE1F27"/><circle cx="958.00" cy="735.10" r="1.65" fill="#EE1F27"/><circle cx="963.09" cy="735.10" r="1.65" fill="#EE1F27"/><circle cx="968.17" cy="735.10" r="1.65" fill="#EE1F27"/><circle cx="973.25" cy="735.10" r="1.65" fill="#EE1F27"/><circle cx="978.34" cy="735.10" r="1.65" fill="#EE1F27"/><circle cx="983.42" cy="735.10" r="1.65" fill="#EE1F27"/><circle cx="988.50" cy="735.10" r="1.65" fill="#EE1F27"/><circle cx="993.58" cy="735.10" r="1.65" fill="#EE1F27"/><circle cx="998.67" cy="735.10" r="1.65" fill="#EE1F27"/><circle cx="1003.75" cy="735.10" r="1.65" fill="#EE1F27"/><circle cx="1008.83" cy="735.10" r="1.65" fill="#EE1F27"/><circle cx="1013.92" cy="735.10" r="1.65" fill="#EE1F27"/><circle cx="1019.00" cy="735.10" r="1.65" fill="#EE1F27"/>
<circle cx="749.60" cy="770.10" r="1.65" fill="#3955A5"/><circle cx="754.68" cy="770.10" r="1.65" fill="#3955A5"/><circle cx="759.77" cy="770.10" r="1.65" fill="#3955A5"/><circle cx="764.85" cy="770.10" r="1.65" fill="#3955A5"/><circle cx="769.93" cy="770.10" r="1.65" fill="#3955A5"/><circle cx="775.02" cy="770.10" r="1.65" fill="#3955A5"/><circle cx="780.10" cy="770.10" r="1.65" fill="#3955A5"/><circle cx="785.18" cy="770.10" r="1.65" fill="#3955A5"/><circle cx="790.26" cy="770.10" r="1.65" fill="#3955A5"/><circle cx="795.35" cy="770.10" r="1.65" fill="#3955A5"/><circle cx="800.43" cy="770.10" r="1.65" fill="#3955A5"/><circle cx="805.51" cy="770.10" r="1.65" fill="#3955A5"/><circle cx="810.60" cy="770.10" r="1.65" fill="#3955A5"/><circle cx="815.68" cy="770.10" r="1.65" fill="#3955A5"/><circle cx="820.76" cy="770.10" r="1.65" fill="#3955A5"/><circle cx="825.85" cy="770.10" r="1.65" fill="#3955A5"/><circle cx="830.93" cy="770.10" r="1.65" fill="#3955A5"/><circle cx="836.01" cy="770.10" r="1.65" fill="#3955A5"/><circle cx="841.09" cy="770.10" r="1.65" fill="#3955A5"/><circle cx="846.18" cy="770.10" r="1.65" fill="#3955A5"/><circle cx="851.26" cy="770.10" r="1.65" fill="#3955A5"/><circle cx="856.34" cy="770.10" r="1.65" fill="#3955A5"/><circle cx="861.43" cy="770.10" r="1.65" fill="#3955A5"/><circle cx="866.51" cy="770.10" r="1.65" fill="#3955A5"/><circle cx="871.59" cy="770.10" r="1.65" fill="#3955A5"/><circle cx="876.68" cy="770.10" r="1.65" fill="#3955A5"/><circle cx="881.76" cy="770.10" r="1.65" fill="#3955A5"/><circle cx="886.84" cy="770.10" r="1.65" fill="#3955A5"/><circle cx="891.92" cy="770.10" r="1.65" fill="#3955A5"/><circle cx="897.01" cy="770.10" r="1.65" fill="#3955A5"/><circle cx="902.09" cy="770.10" r="1.65" fill="#3955A5"/><circle cx="907.17" cy="770.10" r="1.65" fill="#3955A5"/><circle cx="912.26" cy="770.10" r="1.65" fill="#3955A5"/><circle cx="917.34" cy="770.10" r="1.65" fill="#3955A5"/><circle cx="922.42" cy="770.10" r="1.65" fill="#3955A5"/><circle cx="927.51" cy="770.10" r="1.65" fill="#3955A5"/><circle cx="932.59" cy="770.10" r="1.65" fill="#3955A5"/><circle cx="937.67" cy="770.10" r="1.65" fill="#3955A5"/><circle cx="942.75" cy="770.10" r="1.65" fill="#3955A5"/><circle cx="947.84" cy="770.10" r="1.65" fill="#3955A5"/><circle cx="952.92" cy="770.10" r="1.65" fill="#3955A5"/><circle cx="958.00" cy="770.10" r="1.65" fill="#3955A5"/><circle cx="963.09" cy="770.10" r="1.65" fill="#3955A5"/><circle cx="968.17" cy="770.10" r="1.65" fill="#3955A5"/><circle cx="973.25" cy="770.10" r="1.65" fill="#3955A5"/><circle cx="978.34" cy="770.10" r="1.65" fill="#3955A5"/><circle cx="983.42" cy="770.10" r="1.65" fill="#3955A5"/><circle cx="988.50" cy="770.10" r="1.65" fill="#3955A5"/><circle cx="993.58" cy="770.10" r="1.65" fill="#3955A5"/><circle cx="998.67" cy="770.10" r="1.65" fill="#3955A5"/><circle cx="1003.75" cy="770.10" r="1.65" fill="#3955A5"/><circle cx="1008.83" cy="770.10" r="1.65" fill="#3955A5"/><circle cx="1013.92" cy="770.10" r="1.65" fill="#3955A5"/><circle cx="1019.00" cy="770.10" r="1.65" fill="#3955A5"/>
<circle cx="749.60" cy="781.60" r="1.65" fill="#129A49"/><circle cx="754.68" cy="781.60" r="1.65" fill="#129A49"/><circle cx="759.77" cy="781.60" r="1.65" fill="#129A49"/><circle cx="764.85" cy="781.60" r="1.65" fill="#129A49"/><circle cx="769.93" cy="781.60" r="1.65" fill="#129A49"/><circle cx="775.02" cy="781.60" r="1.65" fill="#129A49"/><circle cx="780.10" cy="781.60" r="1.65" fill="#129A49"/><circle cx="785.18" cy="781.60" r="1.65" fill="#129A49"/><circle cx="790.26" cy="781.60" r="1.65" fill="#129A49"/><circle cx="795.35" cy="781.60" r="1.65" fill="#129A49"/><circle cx="800.43" cy="781.60" r="1.65" fill="#129A49"/><circle cx="805.51" cy="781.60" r="1.65" fill="#129A49"/><circle cx="810.60" cy="781.60" r="1.65" fill="#129A49"/><circle cx="815.68" cy="781.60" r="1.65" fill="#129A49"/><circle cx="820.76" cy="781.60" r="1.65" fill="#129A49"/><circle cx="825.85" cy="781.60" r="1.65" fill="#129A49"/><circle cx="830.93" cy="781.60" r="1.65" fill="#129A49"/><circle cx="836.01" cy="781.60" r="1.65" fill="#129A49"/><circle cx="841.09" cy="781.60" r="1.65" fill="#129A49"/><circle cx="846.18" cy="781.60" r="1.65" fill="#129A49"/><circle cx="851.26" cy="781.60" r="1.65" fill="#129A49"/><circle cx="856.34" cy="781.60" r="1.65" fill="#129A49"/><circle cx="861.43" cy="781.60" r="1.65" fill="#129A49"/><circle cx="866.51" cy="781.60" r="1.65" fill="#129A49"/><circle cx="871.59" cy="781.60" r="1.65" fill="#129A49"/><circle cx="876.68" cy="781.60" r="1.65" fill="#129A49"/><circle cx="881.76" cy="781.60" r="1.65" fill="#129A49"/><circle cx="886.84" cy="781.60" r="1.65" fill="#129A49"/><circle cx="891.92" cy="781.60" r="1.65" fill="#129A49"/><circle cx="897.01" cy="781.60" r="1.65" fill="#129A49"/><circle cx="902.09" cy="781.60" r="1.65" fill="#129A49"/><circle cx="907.17" cy="781.60" r="1.65" fill="#129A49"/><circle cx="912.26" cy="781.60" r="1.65" fill="#129A49"/><circle cx="917.34" cy="781.60" r="1.65" fill="#129A49"/><circle cx="922.42" cy="781.60" r="1.65" fill="#129A49"/><circle cx="927.51" cy="781.60" r="1.65" fill="#129A49"/><circle cx="932.59" cy="781.60" r="1.65" fill="#129A49"/><circle cx="937.67" cy="781.60" r="1.65" fill="#129A49"/><circle cx="942.75" cy="781.60" r="1.65" fill="#129A49"/><circle cx="947.84" cy="781.60" r="1.65" fill="#129A49"/><circle cx="952.92" cy="781.60" r="1.65" fill="#129A49"/><circle cx="958.00" cy="781.60" r="1.65" fill="#129A49"/><circle cx="963.09" cy="781.60" r="1.65" fill="#129A49"/><circle cx="968.17" cy="781.60" r="1.65" fill="#129A49"/><circle cx="973.25" cy="781.60" r="1.65" fill="#129A49"/><circle cx="978.34" cy="781.60" r="1.65" fill="#129A49"/><circle cx="983.42" cy="781.60" r="1.65" fill="#129A49"/><circle cx="988.50" cy="781.60" r="1.65" fill="#129A49"/><circle cx="993.58" cy="781.60" r="1.65" fill="#129A49"/><circle cx="998.67" cy="781.60" r="1.65" fill="#129A49"/><circle cx="1003.75" cy="781.60" r="1.65" fill="#129A49"/><circle cx="1008.83" cy="781.60" r="1.65" fill="#129A49"/><circle cx="1013.92" cy="781.60" r="1.65" fill="#129A49"/><circle cx="1019.00" cy="781.60" r="1.65" fill="#129A49"/>
<circle cx="749.60" cy="874.50" r="1.65" fill="#000000"/><circle cx="754.68" cy="874.50" r="1.65" fill="#000000"/><circle cx="759.77" cy="874.50" r="1.65" fill="#000000"/><circle cx="764.85" cy="874.50" r="1.65" fill="#000000"/><circle cx="769.93" cy="874.50" r="1.65" fill="#000000"/><circle cx="775.02" cy="874.50" r="1.65" fill="#000000"/><circle cx="780.10" cy="874.50" r="1.65" fill="#000000"/><circle cx="785.18" cy="874.50" r="1.65" fill="#000000"/><circle cx="790.26" cy="874.50" r="1.65" fill="#000000"/><circle cx="795.35" cy="874.50" r="1.65" fill="#000000"/><circle cx="800.43" cy="874.50" r="1.65" fill="#000000"/><circle cx="805.51" cy="874.50" r="1.65" fill="#000000"/><circle cx="810.60" cy="874.50" r="1.65" fill="#000000"/><circle cx="815.68" cy="874.50" r="1.65" fill="#000000"/><circle cx="820.76" cy="874.50" r="1.65" fill="#000000"/><circle cx="825.85" cy="874.50" r="1.65" fill="#000000"/><circle cx="830.93" cy="874.50" r="1.65" fill="#000000"/><circle cx="836.01" cy="874.50" r="1.65" fill="#000000"/><circle cx="841.09" cy="874.50" r="1.65" fill="#000000"/><circle cx="846.18" cy="874.50" r="1.65" fill="#000000"/><circle cx="851.26" cy="874.50" r="1.65" fill="#000000"/><circle cx="856.34" cy="874.50" r="1.65" fill="#000000"/><circle cx="861.43" cy="874.50" r="1.65" fill="#000000"/><circle cx="866.51" cy="874.50" r="1.65" fill="#000000"/><circle cx="871.59" cy="874.50" r="1.65" fill="#000000"/><circle cx="876.68" cy="874.50" r="1.65" fill="#000000"/><circle cx="881.76" cy="874.50" r="1.65" fill="#000000"/><circle cx="886.84" cy="874.50" r="1.65" fill="#000000"/><circle cx="891.92" cy="874.50" r="1.65" fill="#000000"/><circle cx="897.01" cy="874.50" r="1.65" fill="#000000"/><circle cx="902.09" cy="874.50" r="1.65" fill="#000000"/><circle cx="907.17" cy="874.50" r="1.65" fill="#000000"/><circle cx="912.26" cy="874.50" r="1.65" fill="#000000"/><circle cx="917.34" cy="874.50" r="1.65" fill="#000000"/><circle cx="922.42" cy="874.50" r="1.65" fill="#000000"/><circle cx="927.51" cy="874.50" r="1.65" fill="#000000"/><circle cx="932.59" cy="874.50" r="1.65" fill="#000000"/><circle cx="937.67" cy="874.50" r="1.65" fill="#000000"/><circle cx="942.75" cy="874.50" r="1.65" fill="#000000"/><circle cx="947.84" cy="874.50" r="1.65" fill="#000000"/><circle cx="952.92" cy="874.50" r="1.65" fill="#000000"/><circle cx="958.00" cy="874.50" r="1.65" fill="#000000"/><circle cx="963.09" cy="874.50" r="1.65" fill="#000000"/><circle cx="968.17" cy="874.50" r="1.65" fill="#000000"/><circle cx="973.25" cy="874.50" r="1.65" fill="#000000"/><circle cx="978.34" cy="874.50" r="1.65" fill="#000000"/><circle cx="983.42" cy="874.50" r="1.65" fill="#000000"/><circle cx="988.50" cy="874.50" r="1.65" fill="#000000"/><circle cx="993.58" cy="874.50" r="1.65" fill="#000000"/><circle cx="998.67" cy="874.50" r="1.65" fill="#000000"/><circle cx="1003.75" cy="874.50" r="1.65" fill="#000000"/><circle cx="1008.83" cy="874.50" r="1.65" fill="#000000"/><circle cx="1013.92" cy="874.50" r="1.65" fill="#000000"/><circle cx="1019.00" cy="874.50" r="1.65" fill="#000000"/>
<text transform="translate(63.9,311.0) scale(0.923,1)" font-family="'Liberation Serif', serif" font-style="italic" font-size="23.5">SMT</text>
<text transform="translate(270.8,867.4) scale(0.923,1)" font-family="'Liberation Serif', serif" font-style="italic" font-size="23.5">SMT</text>
<circle cx="93.30" cy="427.00" r="9.3" fill="#000000" stroke="#fff" stroke-width="0.4"/>
<rect x="84.00" y="442.20" width="18.6" height="18.6" fill="#EE1F27" stroke="#fff" stroke-width="0.4"/>
<path d="M93.30 465.80L102.80 475.50L93.30 485.20L83.80 475.50Z" fill="#3955A5" stroke="#fff" stroke-width="0.4"/>
<path d="M93.30 491.83L102.50 507.77L84.10 507.77Z" fill="#129A49" stroke="#fff" stroke-width="0.4"/>
<text x="121.6" y="433.4" font-family="'Liberation Serif', serif" font-size="22">16GH-P1</text>
<text x="121.6" y="457.7" font-family="'Liberation Serif', serif" font-size="22">16GH-P3</text>
<text x="121.6" y="482.0" font-family="'Liberation Serif', serif" font-size="22">16GH-P4</text>
<text x="121.6" y="505.6" font-family="'Liberation Serif', serif" font-size="22">16GH-P5</text></svg></body></html>
